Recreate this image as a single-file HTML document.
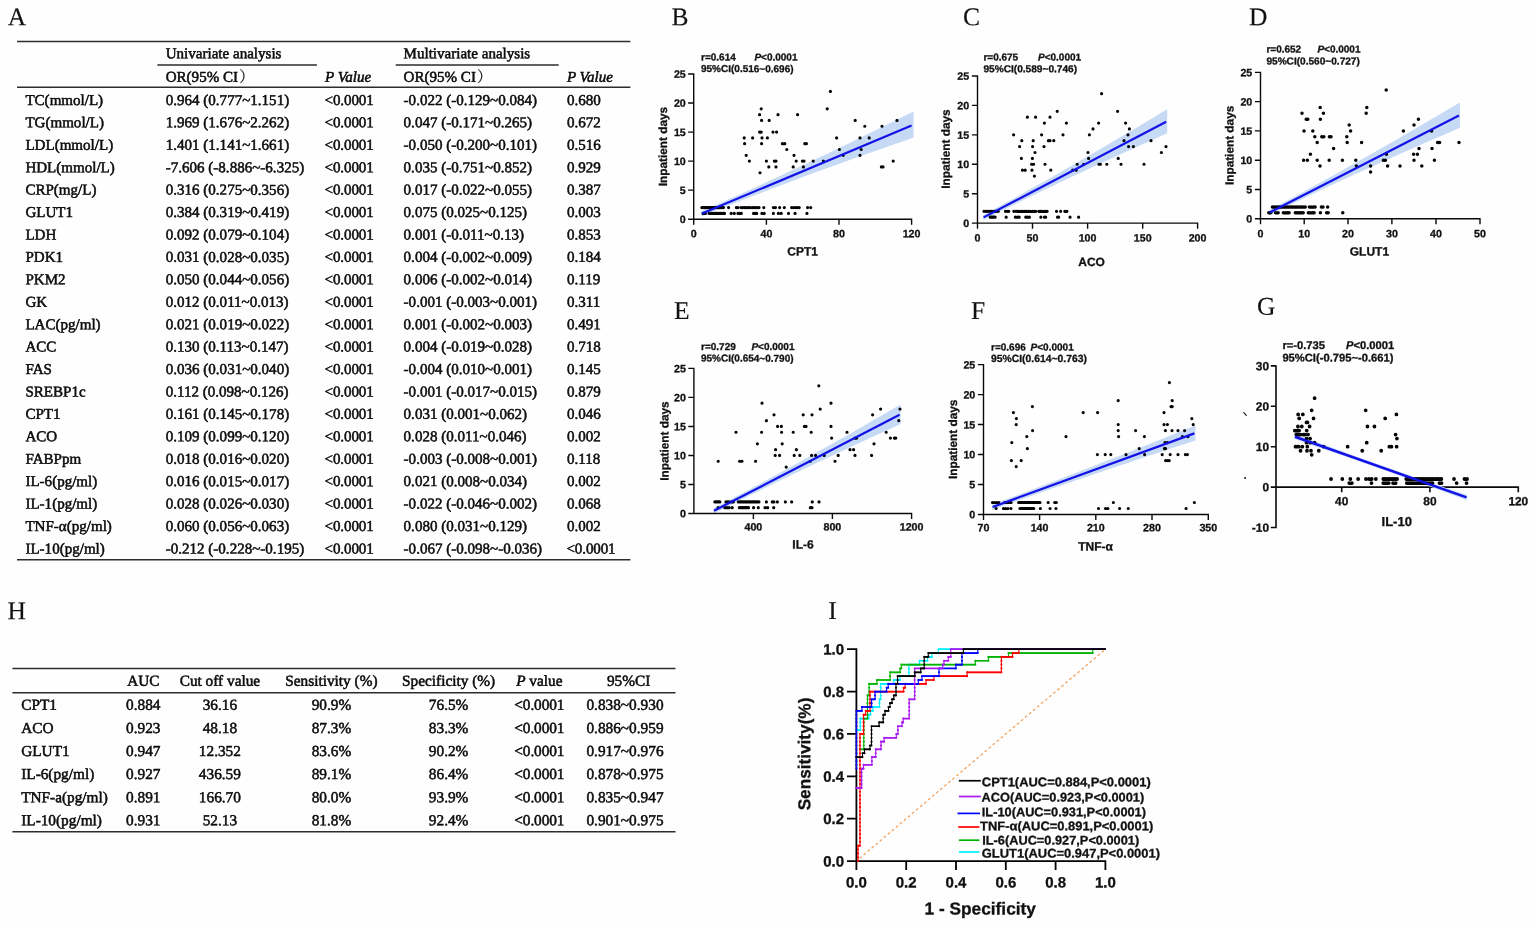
<!DOCTYPE html>
<html lang="en">
<head>
<meta charset="utf-8">
<title>Figure: regression analysis, correlation plots and ROC curves</title>
<style>
html,body{margin:0;padding:0;background:#fff;}
body{width:1535px;height:926px;overflow:hidden;}
#fig{position:relative;width:1535px;height:926px;overflow:hidden;background:#fefefe;filter:blur(0.4px);color:#111;
 font-family:"Liberation Serif","Noto Serif CJK SC",serif;font-size:15.05px;-webkit-text-stroke:0.5px #000;}
.pl{position:absolute;left:0;top:0;font-size:25.5px;line-height:30px;height:30px;white-space:pre;margin:0;font-weight:normal;transform-origin:0 0;-webkit-text-stroke:0.15px #111;}
.tbl{position:absolute;left:0;top:0;width:700px;}
.r{position:absolute;left:0;top:0;width:700px;height:0;line-height:20px;white-space:pre;}
.c,.cc{position:absolute;left:0;top:0;white-space:pre;transform-origin:0 0;}
.hl{position:absolute;height:1.3px;background:#2c2c2c;}
i{font-style:italic;}
.fw{font-family:"Noto Serif CJK SC","Noto Sans CJK SC",serif;font-size:15px;font-weight:400;margin-left:1.2px;-webkit-text-stroke:0.2px #222;line-height:0;}
.p{letter-spacing:-0.12px;}
svg{position:absolute;left:0;top:0;}
svg text{font-family:"Liberation Sans",sans-serif;font-weight:bold;fill:#111;stroke:#111;stroke-width:0.3px;-webkit-text-stroke:0;}
#tH{font-size:15.3px;}
</style>
</head>
<body>
<div id="fig">
<h2 class="pl" style="transform:translate(7.7px,2.19px) rotate(.03deg)">A</h2>
<h2 class="pl" style="transform:translate(671.5px,2.19px) rotate(.03deg)">B</h2>
<h2 class="pl" style="transform:translate(963.0px,2.19px) rotate(.03deg)">C</h2>
<h2 class="pl" style="transform:translate(1249.0px,2.19px) rotate(.03deg)">D</h2>
<h2 class="pl" style="transform:translate(674.0px,295.99px) rotate(.03deg)">E</h2>
<h2 class="pl" style="transform:translate(971.0px,295.99px) rotate(.03deg)">F</h2>
<h2 class="pl" style="transform:translate(1257.0px,291.79px) rotate(.03deg)">G</h2>
<h2 class="pl" style="transform:translate(7.6px,596.29px) rotate(.03deg)">H</h2>
<h2 class="pl" style="transform:translate(828.2px,595.99px) rotate(.03deg)">I</h2>
<section class="tbl" aria-label="Panel A regression table">
<div class="r"><span class="c" style="transform:translate(165.7px,43.24px) rotate(.03deg)">Univariate analysis</span><span class="c" style="transform:translate(403.6px,43.24px) rotate(.03deg)">Multivariate analysis</span></div>
<div class="r"><span class="c" style="transform:translate(165.7px,66.64px) rotate(.03deg)">OR(95% CI<span class="fw">）</span></span><span class="c" style="transform:translate(325.0px,66.64px) rotate(.03deg)"><i>P Value</i></span><span class="c" style="transform:translate(403.6px,66.64px) rotate(.03deg)">OR(95% CI<span class="fw">）</span></span><span class="c" style="transform:translate(566.9px,66.64px) rotate(.03deg)"><i>P Value</i></span></div>
<div class="r"><span class="c" style="transform:translate(25.4px,89.89px) rotate(.03deg)">TC(mmol/L)</span><span class="c" style="transform:translate(165.7px,89.89px) rotate(.03deg)">0.964 (0.777~1.151)</span><span class="c" style="transform:translate(324.6px,89.89px) rotate(.03deg)"><span class="p">&lt;0.0001</span></span><span class="c" style="transform:translate(403.6px,89.89px) rotate(.03deg)">-0.022 (-0.129~0.084)</span><span class="c" style="transform:translate(566.9px,89.89px) rotate(.03deg)">0.680</span></div>
<div class="r"><span class="c" style="transform:translate(25.4px,112.31px) rotate(.03deg)">TG(mmol/L)</span><span class="c" style="transform:translate(165.7px,112.31px) rotate(.03deg)">1.969 (1.676~2.262)</span><span class="c" style="transform:translate(324.6px,112.31px) rotate(.03deg)"><span class="p">&lt;0.0001</span></span><span class="c" style="transform:translate(403.6px,112.31px) rotate(.03deg)">0.047 (-0.171~0.265)</span><span class="c" style="transform:translate(566.9px,112.31px) rotate(.03deg)">0.672</span></div>
<div class="r"><span class="c" style="transform:translate(25.4px,134.74px) rotate(.03deg)">LDL(mmol/L)</span><span class="c" style="transform:translate(165.7px,134.74px) rotate(.03deg)">1.401 (1.141~1.661)</span><span class="c" style="transform:translate(324.6px,134.74px) rotate(.03deg)"><span class="p">&lt;0.0001</span></span><span class="c" style="transform:translate(403.6px,134.74px) rotate(.03deg)">-0.050 (-0.200~0.101)</span><span class="c" style="transform:translate(566.9px,134.74px) rotate(.03deg)">0.516</span></div>
<div class="r"><span class="c" style="transform:translate(25.4px,157.16px) rotate(.03deg)">HDL(mmol/L)</span><span class="c" style="transform:translate(165.7px,157.16px) rotate(.03deg)">-7.606 (-8.886~-6.325)</span><span class="c" style="transform:translate(324.6px,157.16px) rotate(.03deg)"><span class="p">&lt;0.0001</span></span><span class="c" style="transform:translate(403.6px,157.16px) rotate(.03deg)">0.035 (-0.751~0.852)</span><span class="c" style="transform:translate(566.9px,157.16px) rotate(.03deg)">0.929</span></div>
<div class="r"><span class="c" style="transform:translate(25.4px,179.59px) rotate(.03deg)">CRP(mg/L)</span><span class="c" style="transform:translate(165.7px,179.59px) rotate(.03deg)">0.316 (0.275~0.356)</span><span class="c" style="transform:translate(324.6px,179.59px) rotate(.03deg)"><span class="p">&lt;0.0001</span></span><span class="c" style="transform:translate(403.6px,179.59px) rotate(.03deg)">0.017 (-0.022~0.055)</span><span class="c" style="transform:translate(566.9px,179.59px) rotate(.03deg)">0.387</span></div>
<div class="r"><span class="c" style="transform:translate(25.4px,202.01px) rotate(.03deg)">GLUT1</span><span class="c" style="transform:translate(165.7px,202.01px) rotate(.03deg)">0.384 (0.319~0.419)</span><span class="c" style="transform:translate(324.6px,202.01px) rotate(.03deg)"><span class="p">&lt;0.0001</span></span><span class="c" style="transform:translate(403.6px,202.01px) rotate(.03deg)">0.075 (0.025~0.125)</span><span class="c" style="transform:translate(566.9px,202.01px) rotate(.03deg)">0.003</span></div>
<div class="r"><span class="c" style="transform:translate(25.4px,224.44px) rotate(.03deg)">LDH</span><span class="c" style="transform:translate(165.7px,224.44px) rotate(.03deg)">0.092 (0.079~0.104)</span><span class="c" style="transform:translate(324.6px,224.44px) rotate(.03deg)"><span class="p">&lt;0.0001</span></span><span class="c" style="transform:translate(403.6px,224.44px) rotate(.03deg)">0.001 (-0.011~0.13)</span><span class="c" style="transform:translate(566.9px,224.44px) rotate(.03deg)">0.853</span></div>
<div class="r"><span class="c" style="transform:translate(25.4px,246.86px) rotate(.03deg)">PDK1</span><span class="c" style="transform:translate(165.7px,246.86px) rotate(.03deg)">0.031 (0.028~0.035)</span><span class="c" style="transform:translate(324.6px,246.86px) rotate(.03deg)"><span class="p">&lt;0.0001</span></span><span class="c" style="transform:translate(403.6px,246.86px) rotate(.03deg)">0.004 (-0.002~0.009)</span><span class="c" style="transform:translate(566.9px,246.86px) rotate(.03deg)">0.184</span></div>
<div class="r"><span class="c" style="transform:translate(25.4px,269.29px) rotate(.03deg)">PKM2</span><span class="c" style="transform:translate(165.7px,269.29px) rotate(.03deg)">0.050 (0.044~0.056)</span><span class="c" style="transform:translate(324.6px,269.29px) rotate(.03deg)"><span class="p">&lt;0.0001</span></span><span class="c" style="transform:translate(403.6px,269.29px) rotate(.03deg)">0.006 (-0.002~0.014)</span><span class="c" style="transform:translate(566.9px,269.29px) rotate(.03deg)">0.119</span></div>
<div class="r"><span class="c" style="transform:translate(25.4px,291.71px) rotate(.03deg)">GK</span><span class="c" style="transform:translate(165.7px,291.71px) rotate(.03deg)">0.012 (0.011~0.013)</span><span class="c" style="transform:translate(324.6px,291.71px) rotate(.03deg)"><span class="p">&lt;0.0001</span></span><span class="c" style="transform:translate(403.6px,291.71px) rotate(.03deg)">-0.001 (-0.003~0.001)</span><span class="c" style="transform:translate(566.9px,291.71px) rotate(.03deg)">0.311</span></div>
<div class="r"><span class="c" style="transform:translate(25.4px,314.14px) rotate(.03deg)">LAC(pg/ml)</span><span class="c" style="transform:translate(165.7px,314.14px) rotate(.03deg)">0.021 (0.019~0.022)</span><span class="c" style="transform:translate(324.6px,314.14px) rotate(.03deg)"><span class="p">&lt;0.0001</span></span><span class="c" style="transform:translate(403.6px,314.14px) rotate(.03deg)">0.001 (-0.002~0.003)</span><span class="c" style="transform:translate(566.9px,314.14px) rotate(.03deg)">0.491</span></div>
<div class="r"><span class="c" style="transform:translate(25.4px,336.56px) rotate(.03deg)">ACC</span><span class="c" style="transform:translate(165.7px,336.56px) rotate(.03deg)">0.130 (0.113~0.147)</span><span class="c" style="transform:translate(324.6px,336.56px) rotate(.03deg)"><span class="p">&lt;0.0001</span></span><span class="c" style="transform:translate(403.6px,336.56px) rotate(.03deg)">0.004 (-0.019~0.028)</span><span class="c" style="transform:translate(566.9px,336.56px) rotate(.03deg)">0.718</span></div>
<div class="r"><span class="c" style="transform:translate(25.4px,358.99px) rotate(.03deg)">FAS</span><span class="c" style="transform:translate(165.7px,358.99px) rotate(.03deg)">0.036 (0.031~0.040)</span><span class="c" style="transform:translate(324.6px,358.99px) rotate(.03deg)"><span class="p">&lt;0.0001</span></span><span class="c" style="transform:translate(403.6px,358.99px) rotate(.03deg)">-0.004 (0.010~0.001)</span><span class="c" style="transform:translate(566.9px,358.99px) rotate(.03deg)">0.145</span></div>
<div class="r"><span class="c" style="transform:translate(25.4px,381.41px) rotate(.03deg)">SREBP1c</span><span class="c" style="transform:translate(165.7px,381.41px) rotate(.03deg)">0.112 (0.098~0.126)</span><span class="c" style="transform:translate(324.6px,381.41px) rotate(.03deg)"><span class="p">&lt;0.0001</span></span><span class="c" style="transform:translate(403.6px,381.41px) rotate(.03deg)">-0.001 (-0.017~0.015)</span><span class="c" style="transform:translate(566.9px,381.41px) rotate(.03deg)">0.879</span></div>
<div class="r"><span class="c" style="transform:translate(25.4px,403.84px) rotate(.03deg)">CPT1</span><span class="c" style="transform:translate(165.7px,403.84px) rotate(.03deg)">0.161 (0.145~0.178)</span><span class="c" style="transform:translate(324.6px,403.84px) rotate(.03deg)"><span class="p">&lt;0.0001</span></span><span class="c" style="transform:translate(403.6px,403.84px) rotate(.03deg)">0.031 (0.001~0.062)</span><span class="c" style="transform:translate(566.9px,403.84px) rotate(.03deg)">0.046</span></div>
<div class="r"><span class="c" style="transform:translate(25.4px,426.26px) rotate(.03deg)">ACO</span><span class="c" style="transform:translate(165.7px,426.26px) rotate(.03deg)">0.109 (0.099~0.120)</span><span class="c" style="transform:translate(324.6px,426.26px) rotate(.03deg)"><span class="p">&lt;0.0001</span></span><span class="c" style="transform:translate(403.6px,426.26px) rotate(.03deg)">0.028 (0.011~0.046)</span><span class="c" style="transform:translate(566.9px,426.26px) rotate(.03deg)">0.002</span></div>
<div class="r"><span class="c" style="transform:translate(25.4px,448.69px) rotate(.03deg)">FABPpm</span><span class="c" style="transform:translate(165.7px,448.69px) rotate(.03deg)">0.018 (0.016~0.020)</span><span class="c" style="transform:translate(324.6px,448.69px) rotate(.03deg)"><span class="p">&lt;0.0001</span></span><span class="c" style="transform:translate(403.6px,448.69px) rotate(.03deg)">-0.003 (-0.008~0.001)</span><span class="c" style="transform:translate(566.9px,448.69px) rotate(.03deg)">0.118</span></div>
<div class="r"><span class="c" style="transform:translate(25.4px,471.11px) rotate(.03deg)">IL-6(pg/ml)</span><span class="c" style="transform:translate(165.7px,471.11px) rotate(.03deg)">0.016 (0.015~0.017)</span><span class="c" style="transform:translate(324.6px,471.11px) rotate(.03deg)"><span class="p">&lt;0.0001</span></span><span class="c" style="transform:translate(403.6px,471.11px) rotate(.03deg)">0.021 (0.008~0.034)</span><span class="c" style="transform:translate(566.9px,471.11px) rotate(.03deg)">0.002</span></div>
<div class="r"><span class="c" style="transform:translate(25.4px,493.54px) rotate(.03deg)">IL-1(pg/ml)</span><span class="c" style="transform:translate(165.7px,493.54px) rotate(.03deg)">0.028 (0.026~0.030)</span><span class="c" style="transform:translate(324.6px,493.54px) rotate(.03deg)"><span class="p">&lt;0.0001</span></span><span class="c" style="transform:translate(403.6px,493.54px) rotate(.03deg)">-0.022 (-0.046~0.002)</span><span class="c" style="transform:translate(566.9px,493.54px) rotate(.03deg)">0.068</span></div>
<div class="r"><span class="c" style="transform:translate(25.4px,515.96px) rotate(.03deg)">TNF-α(pg/ml)</span><span class="c" style="transform:translate(165.7px,515.96px) rotate(.03deg)">0.060 (0.056~0.063)</span><span class="c" style="transform:translate(324.6px,515.96px) rotate(.03deg)"><span class="p">&lt;0.0001</span></span><span class="c" style="transform:translate(403.6px,515.96px) rotate(.03deg)">0.080 (0.031~0.129)</span><span class="c" style="transform:translate(566.9px,515.96px) rotate(.03deg)">0.002</span></div>
<div class="r"><span class="c" style="transform:translate(25.4px,538.39px) rotate(.03deg)">IL-10(pg/ml)</span><span class="c" style="transform:translate(165.7px,538.39px) rotate(.03deg)">-0.212 (-0.228~-0.195)</span><span class="c" style="transform:translate(324.6px,538.39px) rotate(.03deg)"><span class="p">&lt;0.0001</span></span><span class="c" style="transform:translate(403.6px,538.39px) rotate(.03deg)">-0.067 (-0.098~-0.036)</span><span class="c" style="transform:translate(566.5px,538.39px) rotate(.03deg)"><span class="p">&lt;0.0001</span></span></div>
</section>
<section class="tbl" id="tH" aria-label="Panel H ROC table">
<div class="r"><span class="cc" style="transform:translate(143.3px,670.74px) translateX(-50%) rotate(.03deg)">AUC</span><span class="cc" style="transform:translate(219.9px,670.74px) translateX(-50%) rotate(.03deg)">Cut off value</span><span class="cc" style="transform:translate(331.4px,670.74px) translateX(-50%) rotate(.03deg)">Sensitivity (%)</span><span class="cc" style="transform:translate(448.6px,670.74px) translateX(-50%) rotate(.03deg)">Specificity (%)</span><span class="cc" style="transform:translate(539.3px,670.74px) translateX(-50%) rotate(.03deg)"><i>P</i> value</span><span class="cc" style="transform:translate(628.6px,670.74px) translateX(-50%) rotate(.03deg)">95%CI</span></div>
<div class="r"><span class="c" style="transform:translate(21.2px,694.84px) rotate(.03deg)">CPT1</span><span class="cc" style="transform:translate(143.3px,694.84px) translateX(-50%) rotate(.03deg)">0.884</span><span class="cc" style="transform:translate(219.9px,694.84px) translateX(-50%) rotate(.03deg)">36.16</span><span class="cc" style="transform:translate(331.4px,694.84px) translateX(-50%) rotate(.03deg)">90.9%</span><span class="cc" style="transform:translate(448.6px,694.84px) translateX(-50%) rotate(.03deg)">76.5%</span><span class="cc" style="transform:translate(539.3px,694.84px) translateX(-50%) rotate(.03deg)"><span class="p">&lt;0.0001</span></span><span class="cc" style="transform:translate(625.0px,694.84px) translateX(-50%) rotate(.03deg)">0.838~0.930</span></div>
<div class="r"><span class="c" style="transform:translate(21.2px,717.92px) rotate(.03deg)">ACO</span><span class="cc" style="transform:translate(143.3px,717.92px) translateX(-50%) rotate(.03deg)">0.923</span><span class="cc" style="transform:translate(219.9px,717.92px) translateX(-50%) rotate(.03deg)">48.18</span><span class="cc" style="transform:translate(331.4px,717.92px) translateX(-50%) rotate(.03deg)">87.3%</span><span class="cc" style="transform:translate(448.6px,717.92px) translateX(-50%) rotate(.03deg)">83.3%</span><span class="cc" style="transform:translate(539.3px,717.92px) translateX(-50%) rotate(.03deg)"><span class="p">&lt;0.0001</span></span><span class="cc" style="transform:translate(625.0px,717.92px) translateX(-50%) rotate(.03deg)">0.886~0.959</span></div>
<div class="r"><span class="c" style="transform:translate(21.2px,741.00px) rotate(.03deg)">GLUT1</span><span class="cc" style="transform:translate(143.3px,741.00px) translateX(-50%) rotate(.03deg)">0.947</span><span class="cc" style="transform:translate(219.9px,741.00px) translateX(-50%) rotate(.03deg)">12.352</span><span class="cc" style="transform:translate(331.4px,741.00px) translateX(-50%) rotate(.03deg)">83.6%</span><span class="cc" style="transform:translate(448.6px,741.00px) translateX(-50%) rotate(.03deg)">90.2%</span><span class="cc" style="transform:translate(539.3px,741.00px) translateX(-50%) rotate(.03deg)"><span class="p">&lt;0.0001</span></span><span class="cc" style="transform:translate(625.0px,741.00px) translateX(-50%) rotate(.03deg)">0.917~0.976</span></div>
<div class="r"><span class="c" style="transform:translate(21.2px,764.08px) rotate(.03deg)">IL-6(pg/ml)</span><span class="cc" style="transform:translate(143.3px,764.08px) translateX(-50%) rotate(.03deg)">0.927</span><span class="cc" style="transform:translate(219.9px,764.08px) translateX(-50%) rotate(.03deg)">436.59</span><span class="cc" style="transform:translate(331.4px,764.08px) translateX(-50%) rotate(.03deg)">89.1%</span><span class="cc" style="transform:translate(448.6px,764.08px) translateX(-50%) rotate(.03deg)">86.4%</span><span class="cc" style="transform:translate(539.3px,764.08px) translateX(-50%) rotate(.03deg)"><span class="p">&lt;0.0001</span></span><span class="cc" style="transform:translate(625.0px,764.08px) translateX(-50%) rotate(.03deg)">0.878~0.975</span></div>
<div class="r"><span class="c" style="transform:translate(21.2px,787.16px) rotate(.03deg)">TNF-a(pg/ml)</span><span class="cc" style="transform:translate(143.3px,787.16px) translateX(-50%) rotate(.03deg)">0.891</span><span class="cc" style="transform:translate(219.9px,787.16px) translateX(-50%) rotate(.03deg)">166.70</span><span class="cc" style="transform:translate(331.4px,787.16px) translateX(-50%) rotate(.03deg)">80.0%</span><span class="cc" style="transform:translate(448.6px,787.16px) translateX(-50%) rotate(.03deg)">93.9%</span><span class="cc" style="transform:translate(539.3px,787.16px) translateX(-50%) rotate(.03deg)"><span class="p">&lt;0.0001</span></span><span class="cc" style="transform:translate(625.0px,787.16px) translateX(-50%) rotate(.03deg)">0.835~0.947</span></div>
<div class="r"><span class="c" style="transform:translate(21.2px,810.24px) rotate(.03deg)">IL-10(pg/ml)</span><span class="cc" style="transform:translate(143.3px,810.24px) translateX(-50%) rotate(.03deg)">0.931</span><span class="cc" style="transform:translate(219.9px,810.24px) translateX(-50%) rotate(.03deg)">52.13</span><span class="cc" style="transform:translate(331.4px,810.24px) translateX(-50%) rotate(.03deg)">81.8%</span><span class="cc" style="transform:translate(448.6px,810.24px) translateX(-50%) rotate(.03deg)">92.4%</span><span class="cc" style="transform:translate(539.3px,810.24px) translateX(-50%) rotate(.03deg)"><span class="p">&lt;0.0001</span></span><span class="cc" style="transform:translate(625.0px,810.24px) translateX(-50%) rotate(.03deg)">0.901~0.975</span></div>
</section>
<svg width="1535" height="926" viewBox="0 0 1535 926" role="img" aria-label="Correlation scatter plots and ROC curves">
<path id="rules" d="M17.0 41.50H630.4M157.4 64.90H316.9M395.7 64.90H558.7M17.0 87.20H630.4M17.0 559.80H630.4M12.4 668.60H675.5M12.4 692.70H675.5M12.4 831.80H675.5" stroke="#2c2c2c" stroke-width="1.5" fill="none"/>
<g id="plotB">
<polygon fill="#c6daf6" points="701.5,211.11 710.34,207.33 719.17,203.48 728.01,199.59 736.85,195.65 745.69,191.68 754.52,187.67 763.36,183.64 772.2,179.57 781.04,175.48 789.88,171.36 798.71,167.22 807.55,163.05 816.39,158.86 825.23,154.64 834.06,150.41 842.9,146.15 851.74,141.88 860.58,137.58 869.41,133.26 878.25,128.93 887.09,124.57 895.93,120.2 904.76,115.81 913.6,111.56 913.6,137.56 904.76,140.74 895.93,143.79 887.09,146.86 878.25,149.94 869.41,153.04 860.58,156.16 851.74,159.3 842.9,162.46 834.06,165.65 825.23,168.85 816.39,172.07 807.55,175.32 798.71,178.59 789.88,181.89 781.04,185.2 772.2,188.55 763.36,191.92 754.52,195.32 745.69,198.75 736.85,202.22 728.01,205.72 719.17,209.26 710.34,212.85 701.5,216.51"/>
<path d="M693.7 73.35V219.85M693.05 219.2H912.25M688.1 219.2H693.7M688.1 190.16H693.7M688.1 161.12H693.7M688.1 132.08H693.7M688.1 103.04H693.7M688.1 74H693.7M693.7 219.2V224.8M766.4 219.2V224.8M839 219.2V224.8M911.6 219.2V224.8" stroke="#0a0a0a" stroke-width="1.4" fill="none"/>
<path d="M828.8 91.42a1.6 1.6 0 1 0 3.2 0a1.6 1.6 0 1 0 -3.2 0zM759.6 108.85a1.6 1.6 0 1 0 3.2 0a1.6 1.6 0 1 0 -3.2 0zM825.6 108.85a1.6 1.6 0 1 0 3.2 0a1.6 1.6 0 1 0 -3.2 0zM758 114.66a1.6 1.6 0 1 0 3.2 0a1.6 1.6 0 1 0 -3.2 0zM776.4 114.66a1.6 1.6 0 1 0 3.2 0a1.6 1.6 0 1 0 -3.2 0zM796 114.66a1.6 1.6 0 1 0 3.2 0a1.6 1.6 0 1 0 -3.2 0zM760 120.46a1.6 1.6 0 1 0 3.2 0a1.6 1.6 0 1 0 -3.2 0zM767.6 120.46a1.6 1.6 0 1 0 3.2 0a1.6 1.6 0 1 0 -3.2 0zM853.6 120.46a1.6 1.6 0 1 0 3.2 0a1.6 1.6 0 1 0 -3.2 0zM895.4 120.46a1.6 1.6 0 1 0 3.2 0a1.6 1.6 0 1 0 -3.2 0zM863.2 126.27a1.6 1.6 0 1 0 3.2 0a1.6 1.6 0 1 0 -3.2 0zM880.4 126.27a1.6 1.6 0 1 0 3.2 0a1.6 1.6 0 1 0 -3.2 0zM758 132.08a1.6 1.6 0 1 0 3.2 0a1.6 1.6 0 1 0 -3.2 0zM759.6 132.08a1.6 1.6 0 1 0 3.2 0a1.6 1.6 0 1 0 -3.2 0zM771.4 132.08a1.6 1.6 0 1 0 3.2 0a1.6 1.6 0 1 0 -3.2 0zM775 132.08a1.6 1.6 0 1 0 3.2 0a1.6 1.6 0 1 0 -3.2 0zM742.6 137.89a1.6 1.6 0 1 0 3.2 0a1.6 1.6 0 1 0 -3.2 0zM751 137.89a1.6 1.6 0 1 0 3.2 0a1.6 1.6 0 1 0 -3.2 0zM760.4 137.89a1.6 1.6 0 1 0 3.2 0a1.6 1.6 0 1 0 -3.2 0zM765.8 137.89a1.6 1.6 0 1 0 3.2 0a1.6 1.6 0 1 0 -3.2 0zM835 137.89a1.6 1.6 0 1 0 3.2 0a1.6 1.6 0 1 0 -3.2 0zM858.4 137.89a1.6 1.6 0 1 0 3.2 0a1.6 1.6 0 1 0 -3.2 0zM867.6 137.89a1.6 1.6 0 1 0 3.2 0a1.6 1.6 0 1 0 -3.2 0zM743 143.7a1.6 1.6 0 1 0 3.2 0a1.6 1.6 0 1 0 -3.2 0zM760 143.7a1.6 1.6 0 1 0 3.2 0a1.6 1.6 0 1 0 -3.2 0zM780.8 143.7a1.6 1.6 0 1 0 3.2 0a1.6 1.6 0 1 0 -3.2 0zM783.2 143.7a1.6 1.6 0 1 0 3.2 0a1.6 1.6 0 1 0 -3.2 0zM803.2 143.7a1.6 1.6 0 1 0 3.2 0a1.6 1.6 0 1 0 -3.2 0zM804.8 143.7a1.6 1.6 0 1 0 3.2 0a1.6 1.6 0 1 0 -3.2 0zM785.2 149.5a1.6 1.6 0 1 0 3.2 0a1.6 1.6 0 1 0 -3.2 0zM837.8 149.5a1.6 1.6 0 1 0 3.2 0a1.6 1.6 0 1 0 -3.2 0zM859.6 149.5a1.6 1.6 0 1 0 3.2 0a1.6 1.6 0 1 0 -3.2 0zM744.6 155.31a1.6 1.6 0 1 0 3.2 0a1.6 1.6 0 1 0 -3.2 0zM792.4 155.31a1.6 1.6 0 1 0 3.2 0a1.6 1.6 0 1 0 -3.2 0zM841.6 155.31a1.6 1.6 0 1 0 3.2 0a1.6 1.6 0 1 0 -3.2 0zM858.4 155.31a1.6 1.6 0 1 0 3.2 0a1.6 1.6 0 1 0 -3.2 0zM747.8 161.12a1.6 1.6 0 1 0 3.2 0a1.6 1.6 0 1 0 -3.2 0zM764.8 161.12a1.6 1.6 0 1 0 3.2 0a1.6 1.6 0 1 0 -3.2 0zM772.8 161.12a1.6 1.6 0 1 0 3.2 0a1.6 1.6 0 1 0 -3.2 0zM774.4 161.12a1.6 1.6 0 1 0 3.2 0a1.6 1.6 0 1 0 -3.2 0zM794.6 161.12a1.6 1.6 0 1 0 3.2 0a1.6 1.6 0 1 0 -3.2 0zM800.8 161.12a1.6 1.6 0 1 0 3.2 0a1.6 1.6 0 1 0 -3.2 0zM802.4 161.12a1.6 1.6 0 1 0 3.2 0a1.6 1.6 0 1 0 -3.2 0zM811.6 161.12a1.6 1.6 0 1 0 3.2 0a1.6 1.6 0 1 0 -3.2 0zM821.8 161.12a1.6 1.6 0 1 0 3.2 0a1.6 1.6 0 1 0 -3.2 0zM891.6 161.12a1.6 1.6 0 1 0 3.2 0a1.6 1.6 0 1 0 -3.2 0zM767.2 166.93a1.6 1.6 0 1 0 3.2 0a1.6 1.6 0 1 0 -3.2 0zM774.4 166.93a1.6 1.6 0 1 0 3.2 0a1.6 1.6 0 1 0 -3.2 0zM791.6 166.93a1.6 1.6 0 1 0 3.2 0a1.6 1.6 0 1 0 -3.2 0zM801.8 166.93a1.6 1.6 0 1 0 3.2 0a1.6 1.6 0 1 0 -3.2 0zM879.8 166.93a1.6 1.6 0 1 0 3.2 0a1.6 1.6 0 1 0 -3.2 0zM881.4 166.93a1.6 1.6 0 1 0 3.2 0a1.6 1.6 0 1 0 -3.2 0zM758.4 172.74a1.6 1.6 0 1 0 3.2 0a1.6 1.6 0 1 0 -3.2 0zM700.26 207.58a1.6 1.6 0 1 0 3.2 0a1.6 1.6 0 1 0 -3.2 0zM701.53 207.58a1.6 1.6 0 1 0 3.2 0a1.6 1.6 0 1 0 -3.2 0zM702.81 207.58a1.6 1.6 0 1 0 3.2 0a1.6 1.6 0 1 0 -3.2 0zM704.08 207.58a1.6 1.6 0 1 0 3.2 0a1.6 1.6 0 1 0 -3.2 0zM705.35 207.58a1.6 1.6 0 1 0 3.2 0a1.6 1.6 0 1 0 -3.2 0zM706.62 207.58a1.6 1.6 0 1 0 3.2 0a1.6 1.6 0 1 0 -3.2 0zM707.89 207.58a1.6 1.6 0 1 0 3.2 0a1.6 1.6 0 1 0 -3.2 0zM709.16 207.58a1.6 1.6 0 1 0 3.2 0a1.6 1.6 0 1 0 -3.2 0zM710.43 207.58a1.6 1.6 0 1 0 3.2 0a1.6 1.6 0 1 0 -3.2 0zM711.71 207.58a1.6 1.6 0 1 0 3.2 0a1.6 1.6 0 1 0 -3.2 0zM712.98 207.58a1.6 1.6 0 1 0 3.2 0a1.6 1.6 0 1 0 -3.2 0zM714.25 207.58a1.6 1.6 0 1 0 3.2 0a1.6 1.6 0 1 0 -3.2 0zM715.52 207.58a1.6 1.6 0 1 0 3.2 0a1.6 1.6 0 1 0 -3.2 0zM716.79 207.58a1.6 1.6 0 1 0 3.2 0a1.6 1.6 0 1 0 -3.2 0zM718.06 207.58a1.6 1.6 0 1 0 3.2 0a1.6 1.6 0 1 0 -3.2 0zM719.33 207.58a1.6 1.6 0 1 0 3.2 0a1.6 1.6 0 1 0 -3.2 0zM720.61 207.58a1.6 1.6 0 1 0 3.2 0a1.6 1.6 0 1 0 -3.2 0zM721.88 207.58a1.6 1.6 0 1 0 3.2 0a1.6 1.6 0 1 0 -3.2 0zM726.97 207.58a1.6 1.6 0 1 0 3.2 0a1.6 1.6 0 1 0 -3.2 0zM734.78 207.58a1.6 1.6 0 1 0 3.2 0a1.6 1.6 0 1 0 -3.2 0zM736.35 207.58a1.6 1.6 0 1 0 3.2 0a1.6 1.6 0 1 0 -3.2 0zM739.47 207.58a1.6 1.6 0 1 0 3.2 0a1.6 1.6 0 1 0 -3.2 0zM741.04 207.58a1.6 1.6 0 1 0 3.2 0a1.6 1.6 0 1 0 -3.2 0zM742.6 207.58a1.6 1.6 0 1 0 3.2 0a1.6 1.6 0 1 0 -3.2 0zM744.16 207.58a1.6 1.6 0 1 0 3.2 0a1.6 1.6 0 1 0 -3.2 0zM745.73 207.58a1.6 1.6 0 1 0 3.2 0a1.6 1.6 0 1 0 -3.2 0zM747.29 207.58a1.6 1.6 0 1 0 3.2 0a1.6 1.6 0 1 0 -3.2 0zM748.85 207.58a1.6 1.6 0 1 0 3.2 0a1.6 1.6 0 1 0 -3.2 0zM750.94 207.58a1.6 1.6 0 1 0 3.2 0a1.6 1.6 0 1 0 -3.2 0zM752.5 207.58a1.6 1.6 0 1 0 3.2 0a1.6 1.6 0 1 0 -3.2 0zM754.07 207.58a1.6 1.6 0 1 0 3.2 0a1.6 1.6 0 1 0 -3.2 0zM755.63 207.58a1.6 1.6 0 1 0 3.2 0a1.6 1.6 0 1 0 -3.2 0zM757.4 207.58a1.6 1.6 0 1 0 3.2 0a1.6 1.6 0 1 0 -3.2 0zM762.2 207.58a1.6 1.6 0 1 0 3.2 0a1.6 1.6 0 1 0 -3.2 0zM771.79 207.58a1.6 1.6 0 1 0 3.2 0a1.6 1.6 0 1 0 -3.2 0zM773.87 207.58a1.6 1.6 0 1 0 3.2 0a1.6 1.6 0 1 0 -3.2 0zM778.04 207.58a1.6 1.6 0 1 0 3.2 0a1.6 1.6 0 1 0 -3.2 0zM782.73 207.58a1.6 1.6 0 1 0 3.2 0a1.6 1.6 0 1 0 -3.2 0zM790.03 207.58a1.6 1.6 0 1 0 3.2 0a1.6 1.6 0 1 0 -3.2 0zM792.11 207.58a1.6 1.6 0 1 0 3.2 0a1.6 1.6 0 1 0 -3.2 0zM794.2 207.58a1.6 1.6 0 1 0 3.2 0a1.6 1.6 0 1 0 -3.2 0zM795.76 207.58a1.6 1.6 0 1 0 3.2 0a1.6 1.6 0 1 0 -3.2 0zM797.63 207.58a1.6 1.6 0 1 0 3.2 0a1.6 1.6 0 1 0 -3.2 0zM805.97 207.58a1.6 1.6 0 1 0 3.2 0a1.6 1.6 0 1 0 -3.2 0zM809.1 207.58a1.6 1.6 0 1 0 3.2 0a1.6 1.6 0 1 0 -3.2 0zM701.43 213.39a1.6 1.6 0 1 0 3.2 0a1.6 1.6 0 1 0 -3.2 0zM703.83 213.39a1.6 1.6 0 1 0 3.2 0a1.6 1.6 0 1 0 -3.2 0zM707.56 213.39a1.6 1.6 0 1 0 3.2 0a1.6 1.6 0 1 0 -3.2 0zM708.84 213.39a1.6 1.6 0 1 0 3.2 0a1.6 1.6 0 1 0 -3.2 0zM710.12 213.39a1.6 1.6 0 1 0 3.2 0a1.6 1.6 0 1 0 -3.2 0zM711.4 213.39a1.6 1.6 0 1 0 3.2 0a1.6 1.6 0 1 0 -3.2 0zM712.68 213.39a1.6 1.6 0 1 0 3.2 0a1.6 1.6 0 1 0 -3.2 0zM713.96 213.39a1.6 1.6 0 1 0 3.2 0a1.6 1.6 0 1 0 -3.2 0zM715.24 213.39a1.6 1.6 0 1 0 3.2 0a1.6 1.6 0 1 0 -3.2 0zM716.52 213.39a1.6 1.6 0 1 0 3.2 0a1.6 1.6 0 1 0 -3.2 0zM717.8 213.39a1.6 1.6 0 1 0 3.2 0a1.6 1.6 0 1 0 -3.2 0zM719.08 213.39a1.6 1.6 0 1 0 3.2 0a1.6 1.6 0 1 0 -3.2 0zM720.36 213.39a1.6 1.6 0 1 0 3.2 0a1.6 1.6 0 1 0 -3.2 0zM721.64 213.39a1.6 1.6 0 1 0 3.2 0a1.6 1.6 0 1 0 -3.2 0zM722.92 213.39a1.6 1.6 0 1 0 3.2 0a1.6 1.6 0 1 0 -3.2 0zM729.57 213.39a1.6 1.6 0 1 0 3.2 0a1.6 1.6 0 1 0 -3.2 0zM732.7 213.39a1.6 1.6 0 1 0 3.2 0a1.6 1.6 0 1 0 -3.2 0zM736.35 213.39a1.6 1.6 0 1 0 3.2 0a1.6 1.6 0 1 0 -3.2 0zM738.22 213.39a1.6 1.6 0 1 0 3.2 0a1.6 1.6 0 1 0 -3.2 0zM739.68 213.39a1.6 1.6 0 1 0 3.2 0a1.6 1.6 0 1 0 -3.2 0zM751.98 213.39a1.6 1.6 0 1 0 3.2 0a1.6 1.6 0 1 0 -3.2 0zM753.54 213.39a1.6 1.6 0 1 0 3.2 0a1.6 1.6 0 1 0 -3.2 0zM755.11 213.39a1.6 1.6 0 1 0 3.2 0a1.6 1.6 0 1 0 -3.2 0zM760.32 213.39a1.6 1.6 0 1 0 3.2 0a1.6 1.6 0 1 0 -3.2 0zM762.61 213.39a1.6 1.6 0 1 0 3.2 0a1.6 1.6 0 1 0 -3.2 0zM771.79 213.39a1.6 1.6 0 1 0 3.2 0a1.6 1.6 0 1 0 -3.2 0zM776.79 213.39a1.6 1.6 0 1 0 3.2 0a1.6 1.6 0 1 0 -3.2 0zM779.6 213.39a1.6 1.6 0 1 0 3.2 0a1.6 1.6 0 1 0 -3.2 0zM786.9 213.39a1.6 1.6 0 1 0 3.2 0a1.6 1.6 0 1 0 -3.2 0zM793.47 213.39a1.6 1.6 0 1 0 3.2 0a1.6 1.6 0 1 0 -3.2 0zM805.35 213.39a1.6 1.6 0 1 0 3.2 0a1.6 1.6 0 1 0 -3.2 0z" fill="#050505"/>
<line x1="702" y1="213.6" x2="911.6" y2="125.4" stroke="#1212e6" stroke-width="2.2"/>
<g font-size="10.7">
<text transform="translate(685.8 223.03) rotate(0.03)" text-anchor="end">0</text><text transform="translate(685.8 193.99) rotate(0.03)" text-anchor="end">5</text><text transform="translate(685.8 164.95) rotate(0.03)" text-anchor="end">10</text><text transform="translate(685.8 135.91) rotate(0.03)" text-anchor="end">15</text><text transform="translate(685.8 106.87) rotate(0.03)" text-anchor="end">20</text><text transform="translate(685.8 77.83) rotate(0.03)" text-anchor="end">25</text>
<text transform="translate(693.7 237.2) rotate(0.03)" text-anchor="middle">0</text><text transform="translate(766.4 237.2) rotate(0.03)" text-anchor="middle">40</text><text transform="translate(839 237.2) rotate(0.03)" text-anchor="middle">80</text><text transform="translate(911.6 237.2) rotate(0.03)" text-anchor="middle">120</text>
</g>
<g font-size="10.0">
<text transform="translate(701 60.6) rotate(0.03)">r=0.614</text><text transform="translate(754.4 60.6) rotate(0.03)"><tspan font-style="italic">P</tspan>&lt;0.0001</text><text transform="translate(701 72.1) rotate(0.03)">95%CI(0.516~0.696)</text>
</g>
<text font-size="11.8" text-anchor="middle" transform="translate(667.02 146.5) rotate(-89.97)">Inpatient days</text>
<text font-size="12.0" text-anchor="middle" transform="translate(802.6 255.6) rotate(0.03)">CPT1</text>
</g>
<g id="plotC">
<polygon fill="#c6daf6" points="983.1,214.96 990.77,210.89 998.44,206.76 1006.11,202.59 1013.78,198.38 1021.45,194.13 1029.12,189.86 1036.8,185.56 1044.47,181.23 1052.14,176.88 1059.81,172.5 1067.48,168.11 1075.15,163.69 1082.82,159.25 1090.49,154.79 1098.16,150.31 1105.83,145.81 1113.5,141.3 1121.17,136.76 1128.85,132.21 1136.52,127.64 1144.19,123.05 1151.86,118.45 1159.53,113.83 1167.2,109.28 1167.2,133.28 1159.53,136.75 1151.86,140.17 1144.19,143.6 1136.52,147.04 1128.85,150.51 1121.17,153.98 1113.5,157.48 1105.83,161 1098.16,164.53 1090.49,168.09 1082.82,171.66 1075.15,175.25 1067.48,178.86 1059.81,182.5 1052.14,186.16 1044.47,189.84 1036.8,193.54 1029.12,197.27 1021.45,201.03 1013.78,204.82 1006.11,208.64 998.44,212.5 990.77,216.4 983.1,220.36"/>
<path d="M977.5 75.35V223.75M976.85 223.1H1198.25M971.9 223.1H977.5M971.9 193.68H977.5M971.9 164.26H977.5M971.9 134.84H977.5M971.9 105.42H977.5M971.9 76H977.5M977.5 223.1V228.7M1032.5 223.1V228.7M1087.6 223.1V228.7M1142.7 223.1V228.7M1197.6 223.1V228.7" stroke="#0a0a0a" stroke-width="1.4" fill="none"/>
<path d="M1100 93.65a1.6 1.6 0 1 0 3.2 0a1.6 1.6 0 1 0 -3.2 0zM1055.6 111.3a1.6 1.6 0 1 0 3.2 0a1.6 1.6 0 1 0 -3.2 0zM1116 111.3a1.6 1.6 0 1 0 3.2 0a1.6 1.6 0 1 0 -3.2 0zM1025.8 117.19a1.6 1.6 0 1 0 3.2 0a1.6 1.6 0 1 0 -3.2 0zM1034 117.19a1.6 1.6 0 1 0 3.2 0a1.6 1.6 0 1 0 -3.2 0zM1048.4 117.19a1.6 1.6 0 1 0 3.2 0a1.6 1.6 0 1 0 -3.2 0zM1042.8 123.07a1.6 1.6 0 1 0 3.2 0a1.6 1.6 0 1 0 -3.2 0zM1064.8 123.07a1.6 1.6 0 1 0 3.2 0a1.6 1.6 0 1 0 -3.2 0zM1097 123.07a1.6 1.6 0 1 0 3.2 0a1.6 1.6 0 1 0 -3.2 0zM1124 123.07a1.6 1.6 0 1 0 3.2 0a1.6 1.6 0 1 0 -3.2 0zM1091.4 128.96a1.6 1.6 0 1 0 3.2 0a1.6 1.6 0 1 0 -3.2 0zM1127.8 128.96a1.6 1.6 0 1 0 3.2 0a1.6 1.6 0 1 0 -3.2 0zM1012 134.84a1.6 1.6 0 1 0 3.2 0a1.6 1.6 0 1 0 -3.2 0zM1040 134.84a1.6 1.6 0 1 0 3.2 0a1.6 1.6 0 1 0 -3.2 0zM1061.4 134.84a1.6 1.6 0 1 0 3.2 0a1.6 1.6 0 1 0 -3.2 0zM1087.8 134.84a1.6 1.6 0 1 0 3.2 0a1.6 1.6 0 1 0 -3.2 0zM1126.4 134.84a1.6 1.6 0 1 0 3.2 0a1.6 1.6 0 1 0 -3.2 0zM1020.2 140.72a1.6 1.6 0 1 0 3.2 0a1.6 1.6 0 1 0 -3.2 0zM1031.6 140.72a1.6 1.6 0 1 0 3.2 0a1.6 1.6 0 1 0 -3.2 0zM1046.8 140.72a1.6 1.6 0 1 0 3.2 0a1.6 1.6 0 1 0 -3.2 0zM1048.4 140.72a1.6 1.6 0 1 0 3.2 0a1.6 1.6 0 1 0 -3.2 0zM1052.2 140.72a1.6 1.6 0 1 0 3.2 0a1.6 1.6 0 1 0 -3.2 0zM1122.4 140.72a1.6 1.6 0 1 0 3.2 0a1.6 1.6 0 1 0 -3.2 0zM1149.4 140.72a1.6 1.6 0 1 0 3.2 0a1.6 1.6 0 1 0 -3.2 0zM1018 146.61a1.6 1.6 0 1 0 3.2 0a1.6 1.6 0 1 0 -3.2 0zM1031 146.61a1.6 1.6 0 1 0 3.2 0a1.6 1.6 0 1 0 -3.2 0zM1042.4 146.61a1.6 1.6 0 1 0 3.2 0a1.6 1.6 0 1 0 -3.2 0zM1127 146.61a1.6 1.6 0 1 0 3.2 0a1.6 1.6 0 1 0 -3.2 0zM1131.8 146.61a1.6 1.6 0 1 0 3.2 0a1.6 1.6 0 1 0 -3.2 0zM1164.4 146.61a1.6 1.6 0 1 0 3.2 0a1.6 1.6 0 1 0 -3.2 0zM1033.4 152.49a1.6 1.6 0 1 0 3.2 0a1.6 1.6 0 1 0 -3.2 0zM1086.4 152.49a1.6 1.6 0 1 0 3.2 0a1.6 1.6 0 1 0 -3.2 0zM1159.8 152.49a1.6 1.6 0 1 0 3.2 0a1.6 1.6 0 1 0 -3.2 0zM1019.8 158.38a1.6 1.6 0 1 0 3.2 0a1.6 1.6 0 1 0 -3.2 0zM1030.8 158.38a1.6 1.6 0 1 0 3.2 0a1.6 1.6 0 1 0 -3.2 0zM1087 158.38a1.6 1.6 0 1 0 3.2 0a1.6 1.6 0 1 0 -3.2 0zM1116.6 158.38a1.6 1.6 0 1 0 3.2 0a1.6 1.6 0 1 0 -3.2 0zM1030 164.26a1.6 1.6 0 1 0 3.2 0a1.6 1.6 0 1 0 -3.2 0zM1032 164.26a1.6 1.6 0 1 0 3.2 0a1.6 1.6 0 1 0 -3.2 0zM1043.4 164.26a1.6 1.6 0 1 0 3.2 0a1.6 1.6 0 1 0 -3.2 0zM1075.6 164.26a1.6 1.6 0 1 0 3.2 0a1.6 1.6 0 1 0 -3.2 0zM1082 164.26a1.6 1.6 0 1 0 3.2 0a1.6 1.6 0 1 0 -3.2 0zM1097.4 164.26a1.6 1.6 0 1 0 3.2 0a1.6 1.6 0 1 0 -3.2 0zM1098.8 164.26a1.6 1.6 0 1 0 3.2 0a1.6 1.6 0 1 0 -3.2 0zM1105.2 164.26a1.6 1.6 0 1 0 3.2 0a1.6 1.6 0 1 0 -3.2 0zM1119.4 164.26a1.6 1.6 0 1 0 3.2 0a1.6 1.6 0 1 0 -3.2 0zM1142.4 164.26a1.6 1.6 0 1 0 3.2 0a1.6 1.6 0 1 0 -3.2 0zM1020.8 170.14a1.6 1.6 0 1 0 3.2 0a1.6 1.6 0 1 0 -3.2 0zM1023.6 170.14a1.6 1.6 0 1 0 3.2 0a1.6 1.6 0 1 0 -3.2 0zM1030.4 170.14a1.6 1.6 0 1 0 3.2 0a1.6 1.6 0 1 0 -3.2 0zM1049.2 170.14a1.6 1.6 0 1 0 3.2 0a1.6 1.6 0 1 0 -3.2 0zM1071.2 170.14a1.6 1.6 0 1 0 3.2 0a1.6 1.6 0 1 0 -3.2 0zM1074.6 170.14a1.6 1.6 0 1 0 3.2 0a1.6 1.6 0 1 0 -3.2 0zM1032.8 176.03a1.6 1.6 0 1 0 3.2 0a1.6 1.6 0 1 0 -3.2 0zM982.35 211.33a1.6 1.6 0 1 0 3.2 0a1.6 1.6 0 1 0 -3.2 0zM983.65 211.33a1.6 1.6 0 1 0 3.2 0a1.6 1.6 0 1 0 -3.2 0zM984.95 211.33a1.6 1.6 0 1 0 3.2 0a1.6 1.6 0 1 0 -3.2 0zM986.25 211.33a1.6 1.6 0 1 0 3.2 0a1.6 1.6 0 1 0 -3.2 0zM987.55 211.33a1.6 1.6 0 1 0 3.2 0a1.6 1.6 0 1 0 -3.2 0zM988.86 211.33a1.6 1.6 0 1 0 3.2 0a1.6 1.6 0 1 0 -3.2 0zM990.16 211.33a1.6 1.6 0 1 0 3.2 0a1.6 1.6 0 1 0 -3.2 0zM991.46 211.33a1.6 1.6 0 1 0 3.2 0a1.6 1.6 0 1 0 -3.2 0zM992.76 211.33a1.6 1.6 0 1 0 3.2 0a1.6 1.6 0 1 0 -3.2 0zM994.06 211.33a1.6 1.6 0 1 0 3.2 0a1.6 1.6 0 1 0 -3.2 0zM995.36 211.33a1.6 1.6 0 1 0 3.2 0a1.6 1.6 0 1 0 -3.2 0zM996.67 211.33a1.6 1.6 0 1 0 3.2 0a1.6 1.6 0 1 0 -3.2 0zM1003.84 211.33a1.6 1.6 0 1 0 3.2 0a1.6 1.6 0 1 0 -3.2 0zM1005.71 211.33a1.6 1.6 0 1 0 3.2 0a1.6 1.6 0 1 0 -3.2 0zM1007.17 211.33a1.6 1.6 0 1 0 3.2 0a1.6 1.6 0 1 0 -3.2 0zM1012.18 211.33a1.6 1.6 0 1 0 3.2 0a1.6 1.6 0 1 0 -3.2 0zM1014.26 211.33a1.6 1.6 0 1 0 3.2 0a1.6 1.6 0 1 0 -3.2 0zM1015.83 211.33a1.6 1.6 0 1 0 3.2 0a1.6 1.6 0 1 0 -3.2 0zM1017.39 211.33a1.6 1.6 0 1 0 3.2 0a1.6 1.6 0 1 0 -3.2 0zM1019.47 211.33a1.6 1.6 0 1 0 3.2 0a1.6 1.6 0 1 0 -3.2 0zM1021.04 211.33a1.6 1.6 0 1 0 3.2 0a1.6 1.6 0 1 0 -3.2 0zM1022.6 211.33a1.6 1.6 0 1 0 3.2 0a1.6 1.6 0 1 0 -3.2 0zM1024.16 211.33a1.6 1.6 0 1 0 3.2 0a1.6 1.6 0 1 0 -3.2 0zM1025.73 211.33a1.6 1.6 0 1 0 3.2 0a1.6 1.6 0 1 0 -3.2 0zM1027.29 211.33a1.6 1.6 0 1 0 3.2 0a1.6 1.6 0 1 0 -3.2 0zM1028.85 211.33a1.6 1.6 0 1 0 3.2 0a1.6 1.6 0 1 0 -3.2 0zM1030.94 211.33a1.6 1.6 0 1 0 3.2 0a1.6 1.6 0 1 0 -3.2 0zM1032.5 211.33a1.6 1.6 0 1 0 3.2 0a1.6 1.6 0 1 0 -3.2 0zM1034.07 211.33a1.6 1.6 0 1 0 3.2 0a1.6 1.6 0 1 0 -3.2 0zM1037.19 211.33a1.6 1.6 0 1 0 3.2 0a1.6 1.6 0 1 0 -3.2 0zM1038.76 211.33a1.6 1.6 0 1 0 3.2 0a1.6 1.6 0 1 0 -3.2 0zM1040.32 211.33a1.6 1.6 0 1 0 3.2 0a1.6 1.6 0 1 0 -3.2 0zM1042.4 211.33a1.6 1.6 0 1 0 3.2 0a1.6 1.6 0 1 0 -3.2 0zM1043.97 211.33a1.6 1.6 0 1 0 3.2 0a1.6 1.6 0 1 0 -3.2 0zM1045.53 211.33a1.6 1.6 0 1 0 3.2 0a1.6 1.6 0 1 0 -3.2 0zM1054.91 211.33a1.6 1.6 0 1 0 3.2 0a1.6 1.6 0 1 0 -3.2 0zM1059.08 211.33a1.6 1.6 0 1 0 3.2 0a1.6 1.6 0 1 0 -3.2 0zM1063.25 211.33a1.6 1.6 0 1 0 3.2 0a1.6 1.6 0 1 0 -3.2 0zM1065.34 211.33a1.6 1.6 0 1 0 3.2 0a1.6 1.6 0 1 0 -3.2 0zM988.6 217.22a1.6 1.6 0 1 0 3.2 0a1.6 1.6 0 1 0 -3.2 0zM989.84 217.22a1.6 1.6 0 1 0 3.2 0a1.6 1.6 0 1 0 -3.2 0zM991.07 217.22a1.6 1.6 0 1 0 3.2 0a1.6 1.6 0 1 0 -3.2 0zM992.3 217.22a1.6 1.6 0 1 0 3.2 0a1.6 1.6 0 1 0 -3.2 0zM993.54 217.22a1.6 1.6 0 1 0 3.2 0a1.6 1.6 0 1 0 -3.2 0zM1004.57 217.22a1.6 1.6 0 1 0 3.2 0a1.6 1.6 0 1 0 -3.2 0zM1013.74 217.22a1.6 1.6 0 1 0 3.2 0a1.6 1.6 0 1 0 -3.2 0zM1015.83 217.22a1.6 1.6 0 1 0 3.2 0a1.6 1.6 0 1 0 -3.2 0zM1017.6 217.22a1.6 1.6 0 1 0 3.2 0a1.6 1.6 0 1 0 -3.2 0zM1024.16 217.22a1.6 1.6 0 1 0 3.2 0a1.6 1.6 0 1 0 -3.2 0zM1025.73 217.22a1.6 1.6 0 1 0 3.2 0a1.6 1.6 0 1 0 -3.2 0zM1027.81 217.22a1.6 1.6 0 1 0 3.2 0a1.6 1.6 0 1 0 -3.2 0zM1039.28 217.22a1.6 1.6 0 1 0 3.2 0a1.6 1.6 0 1 0 -3.2 0zM1042.93 217.22a1.6 1.6 0 1 0 3.2 0a1.6 1.6 0 1 0 -3.2 0zM1043.97 217.22a1.6 1.6 0 1 0 3.2 0a1.6 1.6 0 1 0 -3.2 0zM1055.95 217.22a1.6 1.6 0 1 0 3.2 0a1.6 1.6 0 1 0 -3.2 0zM1057 217.22a1.6 1.6 0 1 0 3.2 0a1.6 1.6 0 1 0 -3.2 0zM1068.46 217.22a1.6 1.6 0 1 0 3.2 0a1.6 1.6 0 1 0 -3.2 0zM1077.01 217.22a1.6 1.6 0 1 0 3.2 0a1.6 1.6 0 1 0 -3.2 0z" fill="#050505"/>
<line x1="983.6" y1="217.4" x2="1166.2" y2="121.8" stroke="#1212e6" stroke-width="2.2"/>
<g font-size="10.7">
<text transform="translate(969.2 226.93) rotate(0.03)" text-anchor="end">0</text><text transform="translate(969.2 197.51) rotate(0.03)" text-anchor="end">5</text><text transform="translate(969.2 168.09) rotate(0.03)" text-anchor="end">10</text><text transform="translate(969.2 138.67) rotate(0.03)" text-anchor="end">15</text><text transform="translate(969.2 109.25) rotate(0.03)" text-anchor="end">20</text><text transform="translate(969.2 79.83) rotate(0.03)" text-anchor="end">25</text>
<text transform="translate(977.5 241.6) rotate(0.03)" text-anchor="middle">0</text><text transform="translate(1032.5 241.6) rotate(0.03)" text-anchor="middle">50</text><text transform="translate(1087.6 241.6) rotate(0.03)" text-anchor="middle">100</text><text transform="translate(1142.7 241.6) rotate(0.03)" text-anchor="middle">150</text><text transform="translate(1197.6 241.6) rotate(0.03)" text-anchor="middle">200</text>
</g>
<g font-size="10.0">
<text transform="translate(983.4 60.6) rotate(0.03)">r=0.675</text><text transform="translate(1038 60.6) rotate(0.03)"><tspan font-style="italic">P</tspan>&lt;0.0001</text><text font-size="10.15" transform="translate(983.4 72.2) rotate(0.03)">95%CI(0.589~0.746)</text>
</g>
<text font-size="11.8" text-anchor="middle" transform="translate(949.82 149) rotate(-89.97)">Inpatient days</text>
<text font-size="12.0" text-anchor="middle" transform="translate(1091.6 266) rotate(0.03)">ACO</text>
</g>
<g id="plotD">
<polygon fill="#c6daf6" points="1269.1,209.96 1277.05,205.83 1285.01,201.64 1292.96,197.41 1300.92,193.13 1308.87,188.82 1316.82,184.48 1324.78,180.11 1332.73,175.71 1340.69,171.28 1348.64,166.83 1356.6,162.36 1364.55,157.86 1372.5,153.34 1380.46,148.8 1388.41,144.23 1396.37,139.65 1404.32,135.05 1412.28,130.43 1420.23,125.78 1428.18,121.12 1436.14,116.44 1444.09,111.75 1452.05,107.04 1460,102.39 1460,127.79 1452.05,131.27 1444.09,134.69 1436.14,138.12 1428.18,141.58 1420.23,145.05 1412.28,148.54 1404.32,152.04 1396.37,155.57 1388.41,159.12 1380.46,162.69 1372.5,166.27 1364.55,169.88 1356.6,173.52 1348.64,177.17 1340.69,180.85 1332.73,184.56 1324.78,188.29 1316.82,192.05 1308.87,195.84 1300.92,199.66 1292.96,203.51 1285.01,207.41 1277.05,211.35 1269.1,215.36"/>
<path d="M1260.5 71.75V219.35M1259.85 218.7H1480.65M1254.9 218.7H1260.5M1254.9 189.44H1260.5M1254.9 160.18H1260.5M1254.9 130.92H1260.5M1254.9 101.66H1260.5M1254.9 72.4H1260.5M1260.5 218.7V224.3M1304.2 218.7V224.3M1348 218.7V224.3M1391.9 218.7V224.3M1436 218.7V224.3M1480 218.7V224.3" stroke="#0a0a0a" stroke-width="1.4" fill="none"/>
<path d="M1384.45 89.96a1.75 1.75 0 1 0 3.5 0a1.75 1.75 0 1 0 -3.5 0zM1318.45 107.51a1.75 1.75 0 1 0 3.5 0a1.75 1.75 0 1 0 -3.5 0zM1365.05 107.51a1.75 1.75 0 1 0 3.5 0a1.75 1.75 0 1 0 -3.5 0zM1300.25 113.36a1.75 1.75 0 1 0 3.5 0a1.75 1.75 0 1 0 -3.5 0zM1321.65 113.36a1.75 1.75 0 1 0 3.5 0a1.75 1.75 0 1 0 -3.5 0zM1364.45 113.36a1.75 1.75 0 1 0 3.5 0a1.75 1.75 0 1 0 -3.5 0zM1304.45 119.22a1.75 1.75 0 1 0 3.5 0a1.75 1.75 0 1 0 -3.5 0zM1306.05 119.22a1.75 1.75 0 1 0 3.5 0a1.75 1.75 0 1 0 -3.5 0zM1318.65 119.22a1.75 1.75 0 1 0 3.5 0a1.75 1.75 0 1 0 -3.5 0zM1416.65 119.22a1.75 1.75 0 1 0 3.5 0a1.75 1.75 0 1 0 -3.5 0zM1347.45 125.07a1.75 1.75 0 1 0 3.5 0a1.75 1.75 0 1 0 -3.5 0zM1412.25 125.07a1.75 1.75 0 1 0 3.5 0a1.75 1.75 0 1 0 -3.5 0zM1302.25 130.92a1.75 1.75 0 1 0 3.5 0a1.75 1.75 0 1 0 -3.5 0zM1311.05 130.92a1.75 1.75 0 1 0 3.5 0a1.75 1.75 0 1 0 -3.5 0zM1348.85 130.92a1.75 1.75 0 1 0 3.5 0a1.75 1.75 0 1 0 -3.5 0zM1401.65 130.92a1.75 1.75 0 1 0 3.5 0a1.75 1.75 0 1 0 -3.5 0zM1429.85 130.92a1.75 1.75 0 1 0 3.5 0a1.75 1.75 0 1 0 -3.5 0zM1313.05 136.77a1.75 1.75 0 1 0 3.5 0a1.75 1.75 0 1 0 -3.5 0zM1320.05 136.77a1.75 1.75 0 1 0 3.5 0a1.75 1.75 0 1 0 -3.5 0zM1322.05 136.77a1.75 1.75 0 1 0 3.5 0a1.75 1.75 0 1 0 -3.5 0zM1327.65 136.77a1.75 1.75 0 1 0 3.5 0a1.75 1.75 0 1 0 -3.5 0zM1329.25 136.77a1.75 1.75 0 1 0 3.5 0a1.75 1.75 0 1 0 -3.5 0zM1345.05 136.77a1.75 1.75 0 1 0 3.5 0a1.75 1.75 0 1 0 -3.5 0zM1315.45 142.62a1.75 1.75 0 1 0 3.5 0a1.75 1.75 0 1 0 -3.5 0zM1345.45 142.62a1.75 1.75 0 1 0 3.5 0a1.75 1.75 0 1 0 -3.5 0zM1359.85 142.62a1.75 1.75 0 1 0 3.5 0a1.75 1.75 0 1 0 -3.5 0zM1435.85 142.62a1.75 1.75 0 1 0 3.5 0a1.75 1.75 0 1 0 -3.5 0zM1437.85 142.62a1.75 1.75 0 1 0 3.5 0a1.75 1.75 0 1 0 -3.5 0zM1457.25 142.62a1.75 1.75 0 1 0 3.5 0a1.75 1.75 0 1 0 -3.5 0zM1331.85 148.48a1.75 1.75 0 1 0 3.5 0a1.75 1.75 0 1 0 -3.5 0zM1417.25 148.48a1.75 1.75 0 1 0 3.5 0a1.75 1.75 0 1 0 -3.5 0zM1430.25 148.48a1.75 1.75 0 1 0 3.5 0a1.75 1.75 0 1 0 -3.5 0zM1308.65 154.33a1.75 1.75 0 1 0 3.5 0a1.75 1.75 0 1 0 -3.5 0zM1384.65 154.33a1.75 1.75 0 1 0 3.5 0a1.75 1.75 0 1 0 -3.5 0zM1411.85 154.33a1.75 1.75 0 1 0 3.5 0a1.75 1.75 0 1 0 -3.5 0zM1415.65 154.33a1.75 1.75 0 1 0 3.5 0a1.75 1.75 0 1 0 -3.5 0zM1301.85 160.18a1.75 1.75 0 1 0 3.5 0a1.75 1.75 0 1 0 -3.5 0zM1305.65 160.18a1.75 1.75 0 1 0 3.5 0a1.75 1.75 0 1 0 -3.5 0zM1315.45 160.18a1.75 1.75 0 1 0 3.5 0a1.75 1.75 0 1 0 -3.5 0zM1327.45 160.18a1.75 1.75 0 1 0 3.5 0a1.75 1.75 0 1 0 -3.5 0zM1340.65 160.18a1.75 1.75 0 1 0 3.5 0a1.75 1.75 0 1 0 -3.5 0zM1354.05 160.18a1.75 1.75 0 1 0 3.5 0a1.75 1.75 0 1 0 -3.5 0zM1381.65 160.18a1.75 1.75 0 1 0 3.5 0a1.75 1.75 0 1 0 -3.5 0zM1383.65 160.18a1.75 1.75 0 1 0 3.5 0a1.75 1.75 0 1 0 -3.5 0zM1412.25 160.18a1.75 1.75 0 1 0 3.5 0a1.75 1.75 0 1 0 -3.5 0zM1432.65 160.18a1.75 1.75 0 1 0 3.5 0a1.75 1.75 0 1 0 -3.5 0zM1318.25 166.03a1.75 1.75 0 1 0 3.5 0a1.75 1.75 0 1 0 -3.5 0zM1354.65 166.03a1.75 1.75 0 1 0 3.5 0a1.75 1.75 0 1 0 -3.5 0zM1368.85 166.03a1.75 1.75 0 1 0 3.5 0a1.75 1.75 0 1 0 -3.5 0zM1385.85 166.03a1.75 1.75 0 1 0 3.5 0a1.75 1.75 0 1 0 -3.5 0zM1398.25 166.03a1.75 1.75 0 1 0 3.5 0a1.75 1.75 0 1 0 -3.5 0zM1420.05 166.03a1.75 1.75 0 1 0 3.5 0a1.75 1.75 0 1 0 -3.5 0zM1368.85 171.88a1.75 1.75 0 1 0 3.5 0a1.75 1.75 0 1 0 -3.5 0zM1270.67 207a1.75 1.75 0 1 0 3.5 0a1.75 1.75 0 1 0 -3.5 0zM1271.93 207a1.75 1.75 0 1 0 3.5 0a1.75 1.75 0 1 0 -3.5 0zM1273.2 207a1.75 1.75 0 1 0 3.5 0a1.75 1.75 0 1 0 -3.5 0zM1274.46 207a1.75 1.75 0 1 0 3.5 0a1.75 1.75 0 1 0 -3.5 0zM1275.72 207a1.75 1.75 0 1 0 3.5 0a1.75 1.75 0 1 0 -3.5 0zM1276.98 207a1.75 1.75 0 1 0 3.5 0a1.75 1.75 0 1 0 -3.5 0zM1278.24 207a1.75 1.75 0 1 0 3.5 0a1.75 1.75 0 1 0 -3.5 0zM1279.5 207a1.75 1.75 0 1 0 3.5 0a1.75 1.75 0 1 0 -3.5 0zM1280.77 207a1.75 1.75 0 1 0 3.5 0a1.75 1.75 0 1 0 -3.5 0zM1282.03 207a1.75 1.75 0 1 0 3.5 0a1.75 1.75 0 1 0 -3.5 0zM1283.29 207a1.75 1.75 0 1 0 3.5 0a1.75 1.75 0 1 0 -3.5 0zM1284.55 207a1.75 1.75 0 1 0 3.5 0a1.75 1.75 0 1 0 -3.5 0zM1285.81 207a1.75 1.75 0 1 0 3.5 0a1.75 1.75 0 1 0 -3.5 0zM1287.08 207a1.75 1.75 0 1 0 3.5 0a1.75 1.75 0 1 0 -3.5 0zM1288.34 207a1.75 1.75 0 1 0 3.5 0a1.75 1.75 0 1 0 -3.5 0zM1289.6 207a1.75 1.75 0 1 0 3.5 0a1.75 1.75 0 1 0 -3.5 0zM1290.86 207a1.75 1.75 0 1 0 3.5 0a1.75 1.75 0 1 0 -3.5 0zM1292.12 207a1.75 1.75 0 1 0 3.5 0a1.75 1.75 0 1 0 -3.5 0zM1293.39 207a1.75 1.75 0 1 0 3.5 0a1.75 1.75 0 1 0 -3.5 0zM1294.65 207a1.75 1.75 0 1 0 3.5 0a1.75 1.75 0 1 0 -3.5 0zM1295.91 207a1.75 1.75 0 1 0 3.5 0a1.75 1.75 0 1 0 -3.5 0zM1297.17 207a1.75 1.75 0 1 0 3.5 0a1.75 1.75 0 1 0 -3.5 0zM1298.43 207a1.75 1.75 0 1 0 3.5 0a1.75 1.75 0 1 0 -3.5 0zM1299.7 207a1.75 1.75 0 1 0 3.5 0a1.75 1.75 0 1 0 -3.5 0zM1300.96 207a1.75 1.75 0 1 0 3.5 0a1.75 1.75 0 1 0 -3.5 0zM1302.22 207a1.75 1.75 0 1 0 3.5 0a1.75 1.75 0 1 0 -3.5 0zM1303.48 207a1.75 1.75 0 1 0 3.5 0a1.75 1.75 0 1 0 -3.5 0zM1307.66 207a1.75 1.75 0 1 0 3.5 0a1.75 1.75 0 1 0 -3.5 0zM1309.75 207a1.75 1.75 0 1 0 3.5 0a1.75 1.75 0 1 0 -3.5 0zM1311.83 207a1.75 1.75 0 1 0 3.5 0a1.75 1.75 0 1 0 -3.5 0zM1313.39 207a1.75 1.75 0 1 0 3.5 0a1.75 1.75 0 1 0 -3.5 0zM1319.65 207a1.75 1.75 0 1 0 3.5 0a1.75 1.75 0 1 0 -3.5 0zM1321.21 207a1.75 1.75 0 1 0 3.5 0a1.75 1.75 0 1 0 -3.5 0zM1325.9 207a1.75 1.75 0 1 0 3.5 0a1.75 1.75 0 1 0 -3.5 0zM1267.01 212.85a1.75 1.75 0 1 0 3.5 0a1.75 1.75 0 1 0 -3.5 0zM1269.1 212.85a1.75 1.75 0 1 0 3.5 0a1.75 1.75 0 1 0 -3.5 0zM1273.79 212.85a1.75 1.75 0 1 0 3.5 0a1.75 1.75 0 1 0 -3.5 0zM1276.39 212.85a1.75 1.75 0 1 0 3.5 0a1.75 1.75 0 1 0 -3.5 0zM1281.6 212.85a1.75 1.75 0 1 0 3.5 0a1.75 1.75 0 1 0 -3.5 0zM1283.69 212.85a1.75 1.75 0 1 0 3.5 0a1.75 1.75 0 1 0 -3.5 0zM1285.77 212.85a1.75 1.75 0 1 0 3.5 0a1.75 1.75 0 1 0 -3.5 0zM1287.34 212.85a1.75 1.75 0 1 0 3.5 0a1.75 1.75 0 1 0 -3.5 0zM1293.6 212.85a1.75 1.75 0 1 0 3.5 0a1.75 1.75 0 1 0 -3.5 0zM1294.9 212.85a1.75 1.75 0 1 0 3.5 0a1.75 1.75 0 1 0 -3.5 0zM1296.2 212.85a1.75 1.75 0 1 0 3.5 0a1.75 1.75 0 1 0 -3.5 0zM1297.5 212.85a1.75 1.75 0 1 0 3.5 0a1.75 1.75 0 1 0 -3.5 0zM1298.8 212.85a1.75 1.75 0 1 0 3.5 0a1.75 1.75 0 1 0 -3.5 0zM1300.1 212.85a1.75 1.75 0 1 0 3.5 0a1.75 1.75 0 1 0 -3.5 0zM1301.4 212.85a1.75 1.75 0 1 0 3.5 0a1.75 1.75 0 1 0 -3.5 0zM1306.62 212.85a1.75 1.75 0 1 0 3.5 0a1.75 1.75 0 1 0 -3.5 0zM1308.7 212.85a1.75 1.75 0 1 0 3.5 0a1.75 1.75 0 1 0 -3.5 0zM1310.79 212.85a1.75 1.75 0 1 0 3.5 0a1.75 1.75 0 1 0 -3.5 0zM1312.35 212.85a1.75 1.75 0 1 0 3.5 0a1.75 1.75 0 1 0 -3.5 0zM1318.61 212.85a1.75 1.75 0 1 0 3.5 0a1.75 1.75 0 1 0 -3.5 0zM1324.86 212.85a1.75 1.75 0 1 0 3.5 0a1.75 1.75 0 1 0 -3.5 0zM1326.42 212.85a1.75 1.75 0 1 0 3.5 0a1.75 1.75 0 1 0 -3.5 0zM1341.02 212.85a1.75 1.75 0 1 0 3.5 0a1.75 1.75 0 1 0 -3.5 0z" fill="#050505"/>
<line x1="1269.6" y1="212.4" x2="1459" y2="115.6" stroke="#1212e6" stroke-width="2.2"/>
<g font-size="10.7">
<text transform="translate(1252.3 222.53) rotate(0.03)" text-anchor="end">0</text><text transform="translate(1252.3 193.27) rotate(0.03)" text-anchor="end">5</text><text transform="translate(1252.3 164.01) rotate(0.03)" text-anchor="end">10</text><text transform="translate(1252.3 134.75) rotate(0.03)" text-anchor="end">15</text><text transform="translate(1252.3 105.49) rotate(0.03)" text-anchor="end">20</text><text transform="translate(1252.3 76.23) rotate(0.03)" text-anchor="end">25</text>
<text transform="translate(1260.5 237.2) rotate(0.03)" text-anchor="middle">0</text><text transform="translate(1304.2 237.2) rotate(0.03)" text-anchor="middle">10</text><text transform="translate(1348 237.2) rotate(0.03)" text-anchor="middle">20</text><text transform="translate(1391.9 237.2) rotate(0.03)" text-anchor="middle">30</text><text transform="translate(1436 237.2) rotate(0.03)" text-anchor="middle">40</text><text transform="translate(1480 237.2) rotate(0.03)" text-anchor="middle">50</text>
</g>
<g font-size="10.0">
<text transform="translate(1266.4 52.6) rotate(0.03)">r=0.652</text><text transform="translate(1317.4 52.6) rotate(0.03)"><tspan font-style="italic">P</tspan>&lt;0.0001</text><text font-size="10.1" transform="translate(1266.4 64.4) rotate(0.03)">95%CI(0.560~0.727)</text>
</g>
<text font-size="11.8" text-anchor="middle" transform="translate(1233.42 145.4) rotate(-89.97)">Inpatient days</text>
<text font-size="12.0" text-anchor="middle" transform="translate(1369.4 255.6) rotate(0.03)">GLUT1</text>
</g>
<g id="plotE">
<polygon fill="#c6daf6" points="713.5,508.36 721.3,504.3 729.09,500.2 736.89,496.06 744.68,491.9 752.48,487.71 760.27,483.5 768.07,479.27 775.87,475.02 783.66,470.74 791.46,466.45 799.25,462.14 807.05,457.81 814.85,453.46 822.64,449.09 830.44,444.71 838.23,440.3 846.03,435.89 853.83,431.45 861.62,427 869.42,422.54 877.21,418.05 885.01,413.56 892.8,409.05 900.6,404.58 900.6,423.98 892.8,427.58 885.01,431.14 877.21,434.71 869.42,438.29 861.62,441.89 853.83,445.5 846.03,449.13 838.23,452.78 830.44,456.44 822.64,460.12 814.85,463.82 807.05,467.54 799.25,471.27 791.46,475.02 783.66,478.79 775.87,482.58 768.07,486.39 760.27,490.22 752.48,494.08 744.68,497.96 736.89,501.86 729.09,505.79 721.3,509.75 713.5,513.76"/>
<path d="M693.9 367.75V514.15M693.25 513.5H912.25M688.3 513.5H693.9M688.3 484.48H693.9M688.3 455.46H693.9M688.3 426.44H693.9M688.3 397.42H693.9M688.3 368.4H693.9M753.4 513.5V519.1M832.4 513.5V519.1M911.6 513.5V519.1" stroke="#0a0a0a" stroke-width="1.4" fill="none"/>
<path d="M817.2 385.81a1.6 1.6 0 1 0 3.2 0a1.6 1.6 0 1 0 -3.2 0zM760.4 403.22a1.6 1.6 0 1 0 3.2 0a1.6 1.6 0 1 0 -3.2 0zM829.4 403.22a1.6 1.6 0 1 0 3.2 0a1.6 1.6 0 1 0 -3.2 0zM818.6 409.03a1.6 1.6 0 1 0 3.2 0a1.6 1.6 0 1 0 -3.2 0zM879 409.03a1.6 1.6 0 1 0 3.2 0a1.6 1.6 0 1 0 -3.2 0zM898.4 409.03a1.6 1.6 0 1 0 3.2 0a1.6 1.6 0 1 0 -3.2 0zM772.4 414.83a1.6 1.6 0 1 0 3.2 0a1.6 1.6 0 1 0 -3.2 0zM801.6 414.83a1.6 1.6 0 1 0 3.2 0a1.6 1.6 0 1 0 -3.2 0zM810.4 414.83a1.6 1.6 0 1 0 3.2 0a1.6 1.6 0 1 0 -3.2 0zM871 414.83a1.6 1.6 0 1 0 3.2 0a1.6 1.6 0 1 0 -3.2 0zM764.8 420.64a1.6 1.6 0 1 0 3.2 0a1.6 1.6 0 1 0 -3.2 0zM897.2 420.64a1.6 1.6 0 1 0 3.2 0a1.6 1.6 0 1 0 -3.2 0zM776 426.44a1.6 1.6 0 1 0 3.2 0a1.6 1.6 0 1 0 -3.2 0zM779.8 426.44a1.6 1.6 0 1 0 3.2 0a1.6 1.6 0 1 0 -3.2 0zM802.8 426.44a1.6 1.6 0 1 0 3.2 0a1.6 1.6 0 1 0 -3.2 0zM804.4 426.44a1.6 1.6 0 1 0 3.2 0a1.6 1.6 0 1 0 -3.2 0zM829.4 426.44a1.6 1.6 0 1 0 3.2 0a1.6 1.6 0 1 0 -3.2 0zM734.4 432.24a1.6 1.6 0 1 0 3.2 0a1.6 1.6 0 1 0 -3.2 0zM760 432.24a1.6 1.6 0 1 0 3.2 0a1.6 1.6 0 1 0 -3.2 0zM780 432.24a1.6 1.6 0 1 0 3.2 0a1.6 1.6 0 1 0 -3.2 0zM791.6 432.24a1.6 1.6 0 1 0 3.2 0a1.6 1.6 0 1 0 -3.2 0zM809.6 432.24a1.6 1.6 0 1 0 3.2 0a1.6 1.6 0 1 0 -3.2 0zM845.4 432.24a1.6 1.6 0 1 0 3.2 0a1.6 1.6 0 1 0 -3.2 0zM884.6 432.24a1.6 1.6 0 1 0 3.2 0a1.6 1.6 0 1 0 -3.2 0zM830 438.05a1.6 1.6 0 1 0 3.2 0a1.6 1.6 0 1 0 -3.2 0zM853.4 438.05a1.6 1.6 0 1 0 3.2 0a1.6 1.6 0 1 0 -3.2 0zM855 438.05a1.6 1.6 0 1 0 3.2 0a1.6 1.6 0 1 0 -3.2 0zM888.8 438.05a1.6 1.6 0 1 0 3.2 0a1.6 1.6 0 1 0 -3.2 0zM892.8 438.05a1.6 1.6 0 1 0 3.2 0a1.6 1.6 0 1 0 -3.2 0zM894.2 438.05a1.6 1.6 0 1 0 3.2 0a1.6 1.6 0 1 0 -3.2 0zM755.8 443.85a1.6 1.6 0 1 0 3.2 0a1.6 1.6 0 1 0 -3.2 0zM780.6 443.85a1.6 1.6 0 1 0 3.2 0a1.6 1.6 0 1 0 -3.2 0zM872.4 443.85a1.6 1.6 0 1 0 3.2 0a1.6 1.6 0 1 0 -3.2 0zM774 449.66a1.6 1.6 0 1 0 3.2 0a1.6 1.6 0 1 0 -3.2 0zM794.8 449.66a1.6 1.6 0 1 0 3.2 0a1.6 1.6 0 1 0 -3.2 0zM848.4 449.66a1.6 1.6 0 1 0 3.2 0a1.6 1.6 0 1 0 -3.2 0zM852 449.66a1.6 1.6 0 1 0 3.2 0a1.6 1.6 0 1 0 -3.2 0zM773.6 455.46a1.6 1.6 0 1 0 3.2 0a1.6 1.6 0 1 0 -3.2 0zM778 455.46a1.6 1.6 0 1 0 3.2 0a1.6 1.6 0 1 0 -3.2 0zM792.6 455.46a1.6 1.6 0 1 0 3.2 0a1.6 1.6 0 1 0 -3.2 0zM798.2 455.46a1.6 1.6 0 1 0 3.2 0a1.6 1.6 0 1 0 -3.2 0zM810 455.46a1.6 1.6 0 1 0 3.2 0a1.6 1.6 0 1 0 -3.2 0zM814 455.46a1.6 1.6 0 1 0 3.2 0a1.6 1.6 0 1 0 -3.2 0zM822.6 455.46a1.6 1.6 0 1 0 3.2 0a1.6 1.6 0 1 0 -3.2 0zM836.6 455.46a1.6 1.6 0 1 0 3.2 0a1.6 1.6 0 1 0 -3.2 0zM853.4 455.46a1.6 1.6 0 1 0 3.2 0a1.6 1.6 0 1 0 -3.2 0zM870 455.46a1.6 1.6 0 1 0 3.2 0a1.6 1.6 0 1 0 -3.2 0zM716.6 461.26a1.6 1.6 0 1 0 3.2 0a1.6 1.6 0 1 0 -3.2 0zM738 461.26a1.6 1.6 0 1 0 3.2 0a1.6 1.6 0 1 0 -3.2 0zM740.4 461.26a1.6 1.6 0 1 0 3.2 0a1.6 1.6 0 1 0 -3.2 0zM754 461.26a1.6 1.6 0 1 0 3.2 0a1.6 1.6 0 1 0 -3.2 0zM808.6 461.26a1.6 1.6 0 1 0 3.2 0a1.6 1.6 0 1 0 -3.2 0zM833.4 461.26a1.6 1.6 0 1 0 3.2 0a1.6 1.6 0 1 0 -3.2 0zM784.6 467.07a1.6 1.6 0 1 0 3.2 0a1.6 1.6 0 1 0 -3.2 0zM713.29 501.89a1.6 1.6 0 1 0 3.2 0a1.6 1.6 0 1 0 -3.2 0zM714.53 501.89a1.6 1.6 0 1 0 3.2 0a1.6 1.6 0 1 0 -3.2 0zM715.76 501.89a1.6 1.6 0 1 0 3.2 0a1.6 1.6 0 1 0 -3.2 0zM717 501.89a1.6 1.6 0 1 0 3.2 0a1.6 1.6 0 1 0 -3.2 0zM718.23 501.89a1.6 1.6 0 1 0 3.2 0a1.6 1.6 0 1 0 -3.2 0zM724.36 501.89a1.6 1.6 0 1 0 3.2 0a1.6 1.6 0 1 0 -3.2 0zM725.92 501.89a1.6 1.6 0 1 0 3.2 0a1.6 1.6 0 1 0 -3.2 0zM727.49 501.89a1.6 1.6 0 1 0 3.2 0a1.6 1.6 0 1 0 -3.2 0zM730.09 501.89a1.6 1.6 0 1 0 3.2 0a1.6 1.6 0 1 0 -3.2 0zM731.66 501.89a1.6 1.6 0 1 0 3.2 0a1.6 1.6 0 1 0 -3.2 0zM736.74 501.89a1.6 1.6 0 1 0 3.2 0a1.6 1.6 0 1 0 -3.2 0zM738.03 501.89a1.6 1.6 0 1 0 3.2 0a1.6 1.6 0 1 0 -3.2 0zM739.32 501.89a1.6 1.6 0 1 0 3.2 0a1.6 1.6 0 1 0 -3.2 0zM740.6 501.89a1.6 1.6 0 1 0 3.2 0a1.6 1.6 0 1 0 -3.2 0zM741.89 501.89a1.6 1.6 0 1 0 3.2 0a1.6 1.6 0 1 0 -3.2 0zM743.17 501.89a1.6 1.6 0 1 0 3.2 0a1.6 1.6 0 1 0 -3.2 0zM744.46 501.89a1.6 1.6 0 1 0 3.2 0a1.6 1.6 0 1 0 -3.2 0zM745.74 501.89a1.6 1.6 0 1 0 3.2 0a1.6 1.6 0 1 0 -3.2 0zM747.03 501.89a1.6 1.6 0 1 0 3.2 0a1.6 1.6 0 1 0 -3.2 0zM748.32 501.89a1.6 1.6 0 1 0 3.2 0a1.6 1.6 0 1 0 -3.2 0zM749.6 501.89a1.6 1.6 0 1 0 3.2 0a1.6 1.6 0 1 0 -3.2 0zM750.89 501.89a1.6 1.6 0 1 0 3.2 0a1.6 1.6 0 1 0 -3.2 0zM752.17 501.89a1.6 1.6 0 1 0 3.2 0a1.6 1.6 0 1 0 -3.2 0zM753.46 501.89a1.6 1.6 0 1 0 3.2 0a1.6 1.6 0 1 0 -3.2 0zM754.74 501.89a1.6 1.6 0 1 0 3.2 0a1.6 1.6 0 1 0 -3.2 0zM756.03 501.89a1.6 1.6 0 1 0 3.2 0a1.6 1.6 0 1 0 -3.2 0zM757.32 501.89a1.6 1.6 0 1 0 3.2 0a1.6 1.6 0 1 0 -3.2 0zM764.8 501.89a1.6 1.6 0 1 0 3.2 0a1.6 1.6 0 1 0 -3.2 0zM770.74 501.89a1.6 1.6 0 1 0 3.2 0a1.6 1.6 0 1 0 -3.2 0zM772.31 501.89a1.6 1.6 0 1 0 3.2 0a1.6 1.6 0 1 0 -3.2 0zM775.75 501.89a1.6 1.6 0 1 0 3.2 0a1.6 1.6 0 1 0 -3.2 0zM783.77 501.89a1.6 1.6 0 1 0 3.2 0a1.6 1.6 0 1 0 -3.2 0zM790.03 501.89a1.6 1.6 0 1 0 3.2 0a1.6 1.6 0 1 0 -3.2 0zM810.66 501.89a1.6 1.6 0 1 0 3.2 0a1.6 1.6 0 1 0 -3.2 0zM817.44 501.89a1.6 1.6 0 1 0 3.2 0a1.6 1.6 0 1 0 -3.2 0zM716.54 507.7a1.6 1.6 0 1 0 3.2 0a1.6 1.6 0 1 0 -3.2 0zM723.32 507.7a1.6 1.6 0 1 0 3.2 0a1.6 1.6 0 1 0 -3.2 0zM725.4 507.7a1.6 1.6 0 1 0 3.2 0a1.6 1.6 0 1 0 -3.2 0zM727.49 507.7a1.6 1.6 0 1 0 3.2 0a1.6 1.6 0 1 0 -3.2 0zM730.61 507.7a1.6 1.6 0 1 0 3.2 0a1.6 1.6 0 1 0 -3.2 0zM737.79 507.7a1.6 1.6 0 1 0 3.2 0a1.6 1.6 0 1 0 -3.2 0zM739.09 507.7a1.6 1.6 0 1 0 3.2 0a1.6 1.6 0 1 0 -3.2 0zM740.39 507.7a1.6 1.6 0 1 0 3.2 0a1.6 1.6 0 1 0 -3.2 0zM741.69 507.7a1.6 1.6 0 1 0 3.2 0a1.6 1.6 0 1 0 -3.2 0zM742.99 507.7a1.6 1.6 0 1 0 3.2 0a1.6 1.6 0 1 0 -3.2 0zM744.29 507.7a1.6 1.6 0 1 0 3.2 0a1.6 1.6 0 1 0 -3.2 0zM745.59 507.7a1.6 1.6 0 1 0 3.2 0a1.6 1.6 0 1 0 -3.2 0zM746.89 507.7a1.6 1.6 0 1 0 3.2 0a1.6 1.6 0 1 0 -3.2 0zM751.98 507.7a1.6 1.6 0 1 0 3.2 0a1.6 1.6 0 1 0 -3.2 0zM756.67 507.7a1.6 1.6 0 1 0 3.2 0a1.6 1.6 0 1 0 -3.2 0zM763.45 507.7a1.6 1.6 0 1 0 3.2 0a1.6 1.6 0 1 0 -3.2 0zM766.05 507.7a1.6 1.6 0 1 0 3.2 0a1.6 1.6 0 1 0 -3.2 0zM772.1 507.7a1.6 1.6 0 1 0 3.2 0a1.6 1.6 0 1 0 -3.2 0zM808.79 507.7a1.6 1.6 0 1 0 3.2 0a1.6 1.6 0 1 0 -3.2 0zM810.35 507.7a1.6 1.6 0 1 0 3.2 0a1.6 1.6 0 1 0 -3.2 0z" fill="#050505"/>
<line x1="714" y1="510.8" x2="899.6" y2="414.8" stroke="#1212e6" stroke-width="2.2"/>
<g font-size="10.7">
<text transform="translate(686 517.33) rotate(0.03)" text-anchor="end">0</text><text transform="translate(686 488.31) rotate(0.03)" text-anchor="end">5</text><text transform="translate(686 459.29) rotate(0.03)" text-anchor="end">10</text><text transform="translate(686 430.27) rotate(0.03)" text-anchor="end">15</text><text transform="translate(686 401.25) rotate(0.03)" text-anchor="end">20</text><text transform="translate(686 372.23) rotate(0.03)" text-anchor="end">25</text>
<text transform="translate(753.4 530.4) rotate(0.03)" text-anchor="middle">400</text><text transform="translate(832.4 530.4) rotate(0.03)" text-anchor="middle">800</text><text transform="translate(911.6 530.4) rotate(0.03)" text-anchor="middle">1200</text>
</g>
<g font-size="10.0">
<text transform="translate(701 350) rotate(0.03)">r=0.729</text><text transform="translate(751.4 350) rotate(0.03)"><tspan font-style="italic">P</tspan>&lt;0.0001</text><text transform="translate(701 361.6) rotate(0.03)">95%CI(0.654~0.790)</text>
</g>
<text font-size="11.8" text-anchor="middle" transform="translate(668.42 441) rotate(-89.97)">Inpatient days</text>
<text font-size="12.0" text-anchor="middle" transform="translate(803 548.6) rotate(0.03)">IL-6</text>
</g>
<g id="plotF">
<polygon fill="#c6daf6" points="992.1,504.48 1000.57,501.37 1009.04,498.24 1017.51,495.08 1025.98,491.9 1034.45,488.7 1042.92,485.49 1051.4,482.27 1059.87,479.03 1068.34,475.77 1076.81,472.5 1085.28,469.22 1093.75,465.93 1102.22,462.62 1110.69,459.3 1119.16,455.97 1127.63,452.63 1136.1,449.27 1144.58,445.91 1153.05,442.53 1161.52,439.15 1169.99,435.75 1178.46,432.34 1186.93,428.92 1195.4,425.54 1195.4,440.54 1186.93,443.33 1178.46,446.09 1169.99,448.86 1161.52,451.64 1153.05,454.43 1144.58,457.24 1136.1,460.05 1127.63,462.88 1119.16,465.71 1110.69,468.56 1102.22,471.42 1093.75,474.29 1085.28,477.18 1076.81,480.07 1068.34,482.98 1059.87,485.91 1051.4,488.85 1042.92,491.8 1034.45,494.77 1025.98,497.75 1017.51,500.75 1009.04,503.77 1000.57,506.81 992.1,509.88"/>
<path d="M983.5 363.95V515.15M982.85 514.5H1208.95M977.9 514.5H983.5M977.9 484.52H983.5M977.9 454.54H983.5M977.9 424.56H983.5M977.9 394.58H983.5M977.9 364.6H983.5M983.5 514.5V520.1M1039.6 514.5V520.1M1095.8 514.5V520.1M1152 514.5V520.1M1208.3 514.5V520.1" stroke="#0a0a0a" stroke-width="1.4" fill="none"/>
<path d="M1167.8 382.59a1.6 1.6 0 1 0 3.2 0a1.6 1.6 0 1 0 -3.2 0zM1116.6 400.58a1.6 1.6 0 1 0 3.2 0a1.6 1.6 0 1 0 -3.2 0zM1170.6 400.58a1.6 1.6 0 1 0 3.2 0a1.6 1.6 0 1 0 -3.2 0zM1030.8 406.57a1.6 1.6 0 1 0 3.2 0a1.6 1.6 0 1 0 -3.2 0zM1169.4 406.57a1.6 1.6 0 1 0 3.2 0a1.6 1.6 0 1 0 -3.2 0zM1170.6 406.57a1.6 1.6 0 1 0 3.2 0a1.6 1.6 0 1 0 -3.2 0zM1011.8 412.57a1.6 1.6 0 1 0 3.2 0a1.6 1.6 0 1 0 -3.2 0zM1081.6 412.57a1.6 1.6 0 1 0 3.2 0a1.6 1.6 0 1 0 -3.2 0zM1096 412.57a1.6 1.6 0 1 0 3.2 0a1.6 1.6 0 1 0 -3.2 0zM1162.4 412.57a1.6 1.6 0 1 0 3.2 0a1.6 1.6 0 1 0 -3.2 0zM1014.8 418.56a1.6 1.6 0 1 0 3.2 0a1.6 1.6 0 1 0 -3.2 0zM1190.2 418.56a1.6 1.6 0 1 0 3.2 0a1.6 1.6 0 1 0 -3.2 0zM1014.6 424.56a1.6 1.6 0 1 0 3.2 0a1.6 1.6 0 1 0 -3.2 0zM1116.6 424.56a1.6 1.6 0 1 0 3.2 0a1.6 1.6 0 1 0 -3.2 0zM1162.4 424.56a1.6 1.6 0 1 0 3.2 0a1.6 1.6 0 1 0 -3.2 0zM1165.8 424.56a1.6 1.6 0 1 0 3.2 0a1.6 1.6 0 1 0 -3.2 0zM1191.6 424.56a1.6 1.6 0 1 0 3.2 0a1.6 1.6 0 1 0 -3.2 0zM1031 430.56a1.6 1.6 0 1 0 3.2 0a1.6 1.6 0 1 0 -3.2 0zM1116.6 430.56a1.6 1.6 0 1 0 3.2 0a1.6 1.6 0 1 0 -3.2 0zM1134 430.56a1.6 1.6 0 1 0 3.2 0a1.6 1.6 0 1 0 -3.2 0zM1163.8 430.56a1.6 1.6 0 1 0 3.2 0a1.6 1.6 0 1 0 -3.2 0zM1170.4 430.56a1.6 1.6 0 1 0 3.2 0a1.6 1.6 0 1 0 -3.2 0zM1176.4 430.56a1.6 1.6 0 1 0 3.2 0a1.6 1.6 0 1 0 -3.2 0zM1183 430.56a1.6 1.6 0 1 0 3.2 0a1.6 1.6 0 1 0 -3.2 0zM1025.2 436.55a1.6 1.6 0 1 0 3.2 0a1.6 1.6 0 1 0 -3.2 0zM1064.4 436.55a1.6 1.6 0 1 0 3.2 0a1.6 1.6 0 1 0 -3.2 0zM1117 436.55a1.6 1.6 0 1 0 3.2 0a1.6 1.6 0 1 0 -3.2 0zM1142.8 436.55a1.6 1.6 0 1 0 3.2 0a1.6 1.6 0 1 0 -3.2 0zM1180.8 436.55a1.6 1.6 0 1 0 3.2 0a1.6 1.6 0 1 0 -3.2 0zM1186.4 436.55a1.6 1.6 0 1 0 3.2 0a1.6 1.6 0 1 0 -3.2 0zM1010.2 442.55a1.6 1.6 0 1 0 3.2 0a1.6 1.6 0 1 0 -3.2 0zM1163.4 442.55a1.6 1.6 0 1 0 3.2 0a1.6 1.6 0 1 0 -3.2 0zM1165.8 442.55a1.6 1.6 0 1 0 3.2 0a1.6 1.6 0 1 0 -3.2 0zM1025.8 448.54a1.6 1.6 0 1 0 3.2 0a1.6 1.6 0 1 0 -3.2 0zM1137.6 448.54a1.6 1.6 0 1 0 3.2 0a1.6 1.6 0 1 0 -3.2 0zM1162.8 448.54a1.6 1.6 0 1 0 3.2 0a1.6 1.6 0 1 0 -3.2 0zM1164 448.54a1.6 1.6 0 1 0 3.2 0a1.6 1.6 0 1 0 -3.2 0zM1095.8 454.54a1.6 1.6 0 1 0 3.2 0a1.6 1.6 0 1 0 -3.2 0zM1103.6 454.54a1.6 1.6 0 1 0 3.2 0a1.6 1.6 0 1 0 -3.2 0zM1109.2 454.54a1.6 1.6 0 1 0 3.2 0a1.6 1.6 0 1 0 -3.2 0zM1124.4 454.54a1.6 1.6 0 1 0 3.2 0a1.6 1.6 0 1 0 -3.2 0zM1143 454.54a1.6 1.6 0 1 0 3.2 0a1.6 1.6 0 1 0 -3.2 0zM1160.6 454.54a1.6 1.6 0 1 0 3.2 0a1.6 1.6 0 1 0 -3.2 0zM1168.6 454.54a1.6 1.6 0 1 0 3.2 0a1.6 1.6 0 1 0 -3.2 0zM1176.4 454.54a1.6 1.6 0 1 0 3.2 0a1.6 1.6 0 1 0 -3.2 0zM1183.8 454.54a1.6 1.6 0 1 0 3.2 0a1.6 1.6 0 1 0 -3.2 0zM1185.8 454.54a1.6 1.6 0 1 0 3.2 0a1.6 1.6 0 1 0 -3.2 0zM1009.8 460.54a1.6 1.6 0 1 0 3.2 0a1.6 1.6 0 1 0 -3.2 0zM1019.6 460.54a1.6 1.6 0 1 0 3.2 0a1.6 1.6 0 1 0 -3.2 0zM1164 460.54a1.6 1.6 0 1 0 3.2 0a1.6 1.6 0 1 0 -3.2 0zM1165.8 460.54a1.6 1.6 0 1 0 3.2 0a1.6 1.6 0 1 0 -3.2 0zM1167.6 460.54a1.6 1.6 0 1 0 3.2 0a1.6 1.6 0 1 0 -3.2 0zM1014.6 466.53a1.6 1.6 0 1 0 3.2 0a1.6 1.6 0 1 0 -3.2 0zM990.91 502.51a1.6 1.6 0 1 0 3.2 0a1.6 1.6 0 1 0 -3.2 0zM992.94 502.51a1.6 1.6 0 1 0 3.2 0a1.6 1.6 0 1 0 -3.2 0zM995.29 502.51a1.6 1.6 0 1 0 3.2 0a1.6 1.6 0 1 0 -3.2 0zM997.16 502.51a1.6 1.6 0 1 0 3.2 0a1.6 1.6 0 1 0 -3.2 0zM1002.98 502.51a1.6 1.6 0 1 0 3.2 0a1.6 1.6 0 1 0 -3.2 0zM1004.28 502.51a1.6 1.6 0 1 0 3.2 0a1.6 1.6 0 1 0 -3.2 0zM1005.58 502.51a1.6 1.6 0 1 0 3.2 0a1.6 1.6 0 1 0 -3.2 0zM1006.88 502.51a1.6 1.6 0 1 0 3.2 0a1.6 1.6 0 1 0 -3.2 0zM1008.18 502.51a1.6 1.6 0 1 0 3.2 0a1.6 1.6 0 1 0 -3.2 0zM1009.48 502.51a1.6 1.6 0 1 0 3.2 0a1.6 1.6 0 1 0 -3.2 0zM1017.05 502.51a1.6 1.6 0 1 0 3.2 0a1.6 1.6 0 1 0 -3.2 0zM1018.31 502.51a1.6 1.6 0 1 0 3.2 0a1.6 1.6 0 1 0 -3.2 0zM1019.57 502.51a1.6 1.6 0 1 0 3.2 0a1.6 1.6 0 1 0 -3.2 0zM1020.82 502.51a1.6 1.6 0 1 0 3.2 0a1.6 1.6 0 1 0 -3.2 0zM1022.08 502.51a1.6 1.6 0 1 0 3.2 0a1.6 1.6 0 1 0 -3.2 0zM1023.33 502.51a1.6 1.6 0 1 0 3.2 0a1.6 1.6 0 1 0 -3.2 0zM1024.59 502.51a1.6 1.6 0 1 0 3.2 0a1.6 1.6 0 1 0 -3.2 0zM1025.85 502.51a1.6 1.6 0 1 0 3.2 0a1.6 1.6 0 1 0 -3.2 0zM1027.1 502.51a1.6 1.6 0 1 0 3.2 0a1.6 1.6 0 1 0 -3.2 0zM1028.36 502.51a1.6 1.6 0 1 0 3.2 0a1.6 1.6 0 1 0 -3.2 0zM1029.61 502.51a1.6 1.6 0 1 0 3.2 0a1.6 1.6 0 1 0 -3.2 0zM1030.87 502.51a1.6 1.6 0 1 0 3.2 0a1.6 1.6 0 1 0 -3.2 0zM1032.13 502.51a1.6 1.6 0 1 0 3.2 0a1.6 1.6 0 1 0 -3.2 0zM1033.38 502.51a1.6 1.6 0 1 0 3.2 0a1.6 1.6 0 1 0 -3.2 0zM1034.64 502.51a1.6 1.6 0 1 0 3.2 0a1.6 1.6 0 1 0 -3.2 0zM1035.9 502.51a1.6 1.6 0 1 0 3.2 0a1.6 1.6 0 1 0 -3.2 0zM1037.15 502.51a1.6 1.6 0 1 0 3.2 0a1.6 1.6 0 1 0 -3.2 0zM1038.41 502.51a1.6 1.6 0 1 0 3.2 0a1.6 1.6 0 1 0 -3.2 0zM1046.57 502.51a1.6 1.6 0 1 0 3.2 0a1.6 1.6 0 1 0 -3.2 0zM1053.14 502.51a1.6 1.6 0 1 0 3.2 0a1.6 1.6 0 1 0 -3.2 0zM1054.7 502.51a1.6 1.6 0 1 0 3.2 0a1.6 1.6 0 1 0 -3.2 0zM1111.77 502.51a1.6 1.6 0 1 0 3.2 0a1.6 1.6 0 1 0 -3.2 0zM1192.76 502.51a1.6 1.6 0 1 0 3.2 0a1.6 1.6 0 1 0 -3.2 0zM994.51 508.5a1.6 1.6 0 1 0 3.2 0a1.6 1.6 0 1 0 -3.2 0zM1001.86 508.5a1.6 1.6 0 1 0 3.2 0a1.6 1.6 0 1 0 -3.2 0zM1003.89 508.5a1.6 1.6 0 1 0 3.2 0a1.6 1.6 0 1 0 -3.2 0zM1006.23 508.5a1.6 1.6 0 1 0 3.2 0a1.6 1.6 0 1 0 -3.2 0zM1009.36 508.5a1.6 1.6 0 1 0 3.2 0a1.6 1.6 0 1 0 -3.2 0zM1018.3 508.5a1.6 1.6 0 1 0 3.2 0a1.6 1.6 0 1 0 -3.2 0zM1019.56 508.5a1.6 1.6 0 1 0 3.2 0a1.6 1.6 0 1 0 -3.2 0zM1020.82 508.5a1.6 1.6 0 1 0 3.2 0a1.6 1.6 0 1 0 -3.2 0zM1022.08 508.5a1.6 1.6 0 1 0 3.2 0a1.6 1.6 0 1 0 -3.2 0zM1023.34 508.5a1.6 1.6 0 1 0 3.2 0a1.6 1.6 0 1 0 -3.2 0zM1024.6 508.5a1.6 1.6 0 1 0 3.2 0a1.6 1.6 0 1 0 -3.2 0zM1025.86 508.5a1.6 1.6 0 1 0 3.2 0a1.6 1.6 0 1 0 -3.2 0zM1027.12 508.5a1.6 1.6 0 1 0 3.2 0a1.6 1.6 0 1 0 -3.2 0zM1028.38 508.5a1.6 1.6 0 1 0 3.2 0a1.6 1.6 0 1 0 -3.2 0zM1029.64 508.5a1.6 1.6 0 1 0 3.2 0a1.6 1.6 0 1 0 -3.2 0zM1030.89 508.5a1.6 1.6 0 1 0 3.2 0a1.6 1.6 0 1 0 -3.2 0zM1032.15 508.5a1.6 1.6 0 1 0 3.2 0a1.6 1.6 0 1 0 -3.2 0zM1038.75 508.5a1.6 1.6 0 1 0 3.2 0a1.6 1.6 0 1 0 -3.2 0zM1048.45 508.5a1.6 1.6 0 1 0 3.2 0a1.6 1.6 0 1 0 -3.2 0zM1054.39 508.5a1.6 1.6 0 1 0 3.2 0a1.6 1.6 0 1 0 -3.2 0zM1096.91 508.5a1.6 1.6 0 1 0 3.2 0a1.6 1.6 0 1 0 -3.2 0zM1103.95 508.5a1.6 1.6 0 1 0 3.2 0a1.6 1.6 0 1 0 -3.2 0zM1106.3 508.5a1.6 1.6 0 1 0 3.2 0a1.6 1.6 0 1 0 -3.2 0zM1118.02 508.5a1.6 1.6 0 1 0 3.2 0a1.6 1.6 0 1 0 -3.2 0zM1126.62 508.5a1.6 1.6 0 1 0 3.2 0a1.6 1.6 0 1 0 -3.2 0zM1184.47 508.5a1.6 1.6 0 1 0 3.2 0a1.6 1.6 0 1 0 -3.2 0z" fill="#050505"/>
<line x1="992.6" y1="507" x2="1194.4" y2="433.4" stroke="#1212e6" stroke-width="2.2"/>
<g font-size="10.7">
<text transform="translate(975.3 518.33) rotate(0.03)" text-anchor="end">0</text><text transform="translate(975.3 488.35) rotate(0.03)" text-anchor="end">5</text><text transform="translate(975.3 458.37) rotate(0.03)" text-anchor="end">10</text><text transform="translate(975.3 428.39) rotate(0.03)" text-anchor="end">15</text><text transform="translate(975.3 398.41) rotate(0.03)" text-anchor="end">20</text><text transform="translate(975.3 368.43) rotate(0.03)" text-anchor="end">25</text>
<text transform="translate(983.5 531.2) rotate(0.03)" text-anchor="middle">70</text><text transform="translate(1039.6 531.2) rotate(0.03)" text-anchor="middle">140</text><text transform="translate(1095.8 531.2) rotate(0.03)" text-anchor="middle">210</text><text transform="translate(1152 531.2) rotate(0.03)" text-anchor="middle">280</text><text transform="translate(1208.3 531.2) rotate(0.03)" text-anchor="middle">350</text>
</g>
<g font-size="10.0">
<text transform="translate(991 350.5) rotate(0.03)">r=0.696</text><text transform="translate(1030.6 350.5) rotate(0.03)"><tspan font-style="italic">P</tspan>&lt;0.0001</text><text font-size="10.37" transform="translate(991 362) rotate(0.03)">95%CI(0.614~0.763)</text>
</g>
<text font-size="11.8" text-anchor="middle" transform="translate(957.02 439.3) rotate(-89.97)">Inpatient days</text>
<text font-size="12.0" text-anchor="middle" transform="translate(1095.6 550.4) rotate(0.03)">TNF-α</text>
</g>
<g id="plotG">
<path d="M1276 365.25V528.15M1275.35 487.1H1518.95M1270.8 527.5H1276M1270.8 487.1H1276M1270.8 446.7H1276M1270.8 406.3H1276M1270.8 365.9H1276M1341.7 487.1V492.3M1429.9 487.1V492.3M1518.3 487.1V492.3" stroke="#0a0a0a" stroke-width="1.6" fill="none"/>
<polygon fill="#c6daf6" points="1294.5,433.92 1301.69,436.57 1308.88,439.22 1316.06,441.86 1323.25,444.48 1330.44,447.1 1337.62,449.71 1344.81,452.31 1352,454.9 1359.19,457.47 1366.38,460.04 1373.56,462.6 1380.75,465.15 1387.94,467.69 1395.12,470.22 1402.31,472.74 1409.5,475.25 1416.69,477.75 1423.88,480.24 1431.06,482.72 1438.25,485.19 1445.44,487.65 1452.62,490.1 1459.81,492.54 1467,494.98 1467,500.18 1459.81,497.53 1452.62,494.88 1445.44,492.24 1438.25,489.62 1431.06,487 1423.88,484.39 1416.69,481.79 1409.5,479.2 1402.31,476.63 1395.12,474.06 1387.94,471.5 1380.75,468.95 1373.56,466.41 1366.38,463.88 1359.19,461.36 1352,458.85 1344.81,456.35 1337.62,453.86 1330.44,451.38 1323.25,448.91 1316.06,446.45 1308.88,444 1301.69,441.56 1294.5,439.12"/>
<path d="M1312.71 398.22a1.9 1.9 0 1 0 3.8 0a1.9 1.9 0 1 0 -3.8 0zM1309.79 410.34a1.9 1.9 0 1 0 3.8 0a1.9 1.9 0 1 0 -3.8 0zM1363.78 410.34a1.9 1.9 0 1 0 3.8 0a1.9 1.9 0 1 0 -3.8 0zM1296.24 414.38a1.9 1.9 0 1 0 3.8 0a1.9 1.9 0 1 0 -3.8 0zM1300.93 414.38a1.9 1.9 0 1 0 3.8 0a1.9 1.9 0 1 0 -3.8 0zM1394.53 414.38a1.9 1.9 0 1 0 3.8 0a1.9 1.9 0 1 0 -3.8 0zM1297.28 418.42a1.9 1.9 0 1 0 3.8 0a1.9 1.9 0 1 0 -3.8 0zM1311.67 418.42a1.9 1.9 0 1 0 3.8 0a1.9 1.9 0 1 0 -3.8 0zM1383.28 418.42a1.9 1.9 0 1 0 3.8 0a1.9 1.9 0 1 0 -3.8 0zM1304.58 422.46a1.9 1.9 0 1 0 3.8 0a1.9 1.9 0 1 0 -3.8 0zM1305.62 422.46a1.9 1.9 0 1 0 3.8 0a1.9 1.9 0 1 0 -3.8 0zM1296.03 426.5a1.9 1.9 0 1 0 3.8 0a1.9 1.9 0 1 0 -3.8 0zM1299.89 426.5a1.9 1.9 0 1 0 3.8 0a1.9 1.9 0 1 0 -3.8 0zM1307.71 426.5a1.9 1.9 0 1 0 3.8 0a1.9 1.9 0 1 0 -3.8 0zM1365.56 426.5a1.9 1.9 0 1 0 3.8 0a1.9 1.9 0 1 0 -3.8 0zM1372.54 426.5a1.9 1.9 0 1 0 3.8 0a1.9 1.9 0 1 0 -3.8 0zM1292.91 430.54a1.9 1.9 0 1 0 3.8 0a1.9 1.9 0 1 0 -3.8 0zM1295.41 430.54a1.9 1.9 0 1 0 3.8 0a1.9 1.9 0 1 0 -3.8 0zM1297.28 430.54a1.9 1.9 0 1 0 3.8 0a1.9 1.9 0 1 0 -3.8 0zM1304.79 430.54a1.9 1.9 0 1 0 3.8 0a1.9 1.9 0 1 0 -3.8 0zM1294.37 434.58a1.9 1.9 0 1 0 3.8 0a1.9 1.9 0 1 0 -3.8 0zM1296.24 434.58a1.9 1.9 0 1 0 3.8 0a1.9 1.9 0 1 0 -3.8 0zM1298.33 434.58a1.9 1.9 0 1 0 3.8 0a1.9 1.9 0 1 0 -3.8 0zM1301.25 434.58a1.9 1.9 0 1 0 3.8 0a1.9 1.9 0 1 0 -3.8 0zM1303.02 434.58a1.9 1.9 0 1 0 3.8 0a1.9 1.9 0 1 0 -3.8 0zM1306.14 434.58a1.9 1.9 0 1 0 3.8 0a1.9 1.9 0 1 0 -3.8 0zM1393.7 434.58a1.9 1.9 0 1 0 3.8 0a1.9 1.9 0 1 0 -3.8 0zM1304.58 438.62a1.9 1.9 0 1 0 3.8 0a1.9 1.9 0 1 0 -3.8 0zM1308.23 438.62a1.9 1.9 0 1 0 3.8 0a1.9 1.9 0 1 0 -3.8 0zM1395.05 438.62a1.9 1.9 0 1 0 3.8 0a1.9 1.9 0 1 0 -3.8 0zM1304.58 442.66a1.9 1.9 0 1 0 3.8 0a1.9 1.9 0 1 0 -3.8 0zM1308.23 442.66a1.9 1.9 0 1 0 3.8 0a1.9 1.9 0 1 0 -3.8 0zM1312.71 442.66a1.9 1.9 0 1 0 3.8 0a1.9 1.9 0 1 0 -3.8 0zM1364.83 442.66a1.9 1.9 0 1 0 3.8 0a1.9 1.9 0 1 0 -3.8 0zM1293.64 446.7a1.9 1.9 0 1 0 3.8 0a1.9 1.9 0 1 0 -3.8 0zM1295.41 446.7a1.9 1.9 0 1 0 3.8 0a1.9 1.9 0 1 0 -3.8 0zM1296.76 446.7a1.9 1.9 0 1 0 3.8 0a1.9 1.9 0 1 0 -3.8 0zM1300.41 446.7a1.9 1.9 0 1 0 3.8 0a1.9 1.9 0 1 0 -3.8 0zM1305.41 446.7a1.9 1.9 0 1 0 3.8 0a1.9 1.9 0 1 0 -3.8 0zM1321.78 446.7a1.9 1.9 0 1 0 3.8 0a1.9 1.9 0 1 0 -3.8 0zM1345.75 446.7a1.9 1.9 0 1 0 3.8 0a1.9 1.9 0 1 0 -3.8 0zM1387.45 446.7a1.9 1.9 0 1 0 3.8 0a1.9 1.9 0 1 0 -3.8 0zM1389.53 446.7a1.9 1.9 0 1 0 3.8 0a1.9 1.9 0 1 0 -3.8 0zM1394.74 446.7a1.9 1.9 0 1 0 3.8 0a1.9 1.9 0 1 0 -3.8 0zM1298.64 450.74a1.9 1.9 0 1 0 3.8 0a1.9 1.9 0 1 0 -3.8 0zM1305.1 450.74a1.9 1.9 0 1 0 3.8 0a1.9 1.9 0 1 0 -3.8 0zM1309.06 450.74a1.9 1.9 0 1 0 3.8 0a1.9 1.9 0 1 0 -3.8 0zM1316.88 450.74a1.9 1.9 0 1 0 3.8 0a1.9 1.9 0 1 0 -3.8 0zM1360.35 450.74a1.9 1.9 0 1 0 3.8 0a1.9 1.9 0 1 0 -3.8 0zM1379.32 450.74a1.9 1.9 0 1 0 3.8 0a1.9 1.9 0 1 0 -3.8 0zM1309.79 454.78a1.9 1.9 0 1 0 3.8 0a1.9 1.9 0 1 0 -3.8 0zM1329.14 479.02a1.9 1.9 0 1 0 3.8 0a1.9 1.9 0 1 0 -3.8 0zM1340.4 479.02a1.9 1.9 0 1 0 3.8 0a1.9 1.9 0 1 0 -3.8 0zM1348.43 479.02a1.9 1.9 0 1 0 3.8 0a1.9 1.9 0 1 0 -3.8 0zM1356.24 479.02a1.9 1.9 0 1 0 3.8 0a1.9 1.9 0 1 0 -3.8 0zM1364.06 479.02a1.9 1.9 0 1 0 3.8 0a1.9 1.9 0 1 0 -3.8 0zM1367.19 479.02a1.9 1.9 0 1 0 3.8 0a1.9 1.9 0 1 0 -3.8 0zM1369.79 479.02a1.9 1.9 0 1 0 3.8 0a1.9 1.9 0 1 0 -3.8 0zM1373.96 479.02a1.9 1.9 0 1 0 3.8 0a1.9 1.9 0 1 0 -3.8 0zM1381.4 479.02a1.9 1.9 0 1 0 3.8 0a1.9 1.9 0 1 0 -3.8 0zM1382.66 479.02a1.9 1.9 0 1 0 3.8 0a1.9 1.9 0 1 0 -3.8 0zM1383.91 479.02a1.9 1.9 0 1 0 3.8 0a1.9 1.9 0 1 0 -3.8 0zM1385.16 479.02a1.9 1.9 0 1 0 3.8 0a1.9 1.9 0 1 0 -3.8 0zM1386.42 479.02a1.9 1.9 0 1 0 3.8 0a1.9 1.9 0 1 0 -3.8 0zM1387.67 479.02a1.9 1.9 0 1 0 3.8 0a1.9 1.9 0 1 0 -3.8 0zM1388.92 479.02a1.9 1.9 0 1 0 3.8 0a1.9 1.9 0 1 0 -3.8 0zM1390.17 479.02a1.9 1.9 0 1 0 3.8 0a1.9 1.9 0 1 0 -3.8 0zM1391.43 479.02a1.9 1.9 0 1 0 3.8 0a1.9 1.9 0 1 0 -3.8 0zM1392.68 479.02a1.9 1.9 0 1 0 3.8 0a1.9 1.9 0 1 0 -3.8 0zM1393.93 479.02a1.9 1.9 0 1 0 3.8 0a1.9 1.9 0 1 0 -3.8 0zM1395.18 479.02a1.9 1.9 0 1 0 3.8 0a1.9 1.9 0 1 0 -3.8 0zM1404.34 479.02a1.9 1.9 0 1 0 3.8 0a1.9 1.9 0 1 0 -3.8 0zM1405.59 479.02a1.9 1.9 0 1 0 3.8 0a1.9 1.9 0 1 0 -3.8 0zM1406.85 479.02a1.9 1.9 0 1 0 3.8 0a1.9 1.9 0 1 0 -3.8 0zM1408.1 479.02a1.9 1.9 0 1 0 3.8 0a1.9 1.9 0 1 0 -3.8 0zM1409.36 479.02a1.9 1.9 0 1 0 3.8 0a1.9 1.9 0 1 0 -3.8 0zM1410.61 479.02a1.9 1.9 0 1 0 3.8 0a1.9 1.9 0 1 0 -3.8 0zM1411.87 479.02a1.9 1.9 0 1 0 3.8 0a1.9 1.9 0 1 0 -3.8 0zM1413.12 479.02a1.9 1.9 0 1 0 3.8 0a1.9 1.9 0 1 0 -3.8 0zM1414.38 479.02a1.9 1.9 0 1 0 3.8 0a1.9 1.9 0 1 0 -3.8 0zM1415.63 479.02a1.9 1.9 0 1 0 3.8 0a1.9 1.9 0 1 0 -3.8 0zM1416.89 479.02a1.9 1.9 0 1 0 3.8 0a1.9 1.9 0 1 0 -3.8 0zM1418.14 479.02a1.9 1.9 0 1 0 3.8 0a1.9 1.9 0 1 0 -3.8 0zM1419.4 479.02a1.9 1.9 0 1 0 3.8 0a1.9 1.9 0 1 0 -3.8 0zM1420.65 479.02a1.9 1.9 0 1 0 3.8 0a1.9 1.9 0 1 0 -3.8 0zM1421.91 479.02a1.9 1.9 0 1 0 3.8 0a1.9 1.9 0 1 0 -3.8 0zM1423.16 479.02a1.9 1.9 0 1 0 3.8 0a1.9 1.9 0 1 0 -3.8 0zM1424.42 479.02a1.9 1.9 0 1 0 3.8 0a1.9 1.9 0 1 0 -3.8 0zM1425.67 479.02a1.9 1.9 0 1 0 3.8 0a1.9 1.9 0 1 0 -3.8 0zM1426.93 479.02a1.9 1.9 0 1 0 3.8 0a1.9 1.9 0 1 0 -3.8 0zM1428.18 479.02a1.9 1.9 0 1 0 3.8 0a1.9 1.9 0 1 0 -3.8 0zM1429.44 479.02a1.9 1.9 0 1 0 3.8 0a1.9 1.9 0 1 0 -3.8 0zM1430.7 479.02a1.9 1.9 0 1 0 3.8 0a1.9 1.9 0 1 0 -3.8 0zM1431.95 479.02a1.9 1.9 0 1 0 3.8 0a1.9 1.9 0 1 0 -3.8 0zM1433.21 479.02a1.9 1.9 0 1 0 3.8 0a1.9 1.9 0 1 0 -3.8 0zM1434.46 479.02a1.9 1.9 0 1 0 3.8 0a1.9 1.9 0 1 0 -3.8 0zM1435.72 479.02a1.9 1.9 0 1 0 3.8 0a1.9 1.9 0 1 0 -3.8 0zM1436.97 479.02a1.9 1.9 0 1 0 3.8 0a1.9 1.9 0 1 0 -3.8 0zM1438.23 479.02a1.9 1.9 0 1 0 3.8 0a1.9 1.9 0 1 0 -3.8 0zM1439.48 479.02a1.9 1.9 0 1 0 3.8 0a1.9 1.9 0 1 0 -3.8 0zM1452.14 479.02a1.9 1.9 0 1 0 3.8 0a1.9 1.9 0 1 0 -3.8 0zM1462.56 479.02a1.9 1.9 0 1 0 3.8 0a1.9 1.9 0 1 0 -3.8 0zM1465.16 479.02a1.9 1.9 0 1 0 3.8 0a1.9 1.9 0 1 0 -3.8 0zM1347.38 483.06a1.9 1.9 0 1 0 3.8 0a1.9 1.9 0 1 0 -3.8 0zM1349.99 483.06a1.9 1.9 0 1 0 3.8 0a1.9 1.9 0 1 0 -3.8 0zM1369.58 483.06a1.9 1.9 0 1 0 3.8 0a1.9 1.9 0 1 0 -3.8 0zM1381.4 483.06a1.9 1.9 0 1 0 3.8 0a1.9 1.9 0 1 0 -3.8 0zM1382.76 483.06a1.9 1.9 0 1 0 3.8 0a1.9 1.9 0 1 0 -3.8 0zM1384.12 483.06a1.9 1.9 0 1 0 3.8 0a1.9 1.9 0 1 0 -3.8 0zM1385.48 483.06a1.9 1.9 0 1 0 3.8 0a1.9 1.9 0 1 0 -3.8 0zM1386.84 483.06a1.9 1.9 0 1 0 3.8 0a1.9 1.9 0 1 0 -3.8 0zM1391.16 483.06a1.9 1.9 0 1 0 3.8 0a1.9 1.9 0 1 0 -3.8 0zM1393.77 483.06a1.9 1.9 0 1 0 3.8 0a1.9 1.9 0 1 0 -3.8 0zM1404.86 483.06a1.9 1.9 0 1 0 3.8 0a1.9 1.9 0 1 0 -3.8 0zM1406.08 483.06a1.9 1.9 0 1 0 3.8 0a1.9 1.9 0 1 0 -3.8 0zM1407.31 483.06a1.9 1.9 0 1 0 3.8 0a1.9 1.9 0 1 0 -3.8 0zM1408.54 483.06a1.9 1.9 0 1 0 3.8 0a1.9 1.9 0 1 0 -3.8 0zM1409.76 483.06a1.9 1.9 0 1 0 3.8 0a1.9 1.9 0 1 0 -3.8 0zM1410.99 483.06a1.9 1.9 0 1 0 3.8 0a1.9 1.9 0 1 0 -3.8 0zM1412.22 483.06a1.9 1.9 0 1 0 3.8 0a1.9 1.9 0 1 0 -3.8 0zM1413.45 483.06a1.9 1.9 0 1 0 3.8 0a1.9 1.9 0 1 0 -3.8 0zM1414.67 483.06a1.9 1.9 0 1 0 3.8 0a1.9 1.9 0 1 0 -3.8 0zM1415.9 483.06a1.9 1.9 0 1 0 3.8 0a1.9 1.9 0 1 0 -3.8 0zM1417.13 483.06a1.9 1.9 0 1 0 3.8 0a1.9 1.9 0 1 0 -3.8 0zM1418.35 483.06a1.9 1.9 0 1 0 3.8 0a1.9 1.9 0 1 0 -3.8 0zM1419.58 483.06a1.9 1.9 0 1 0 3.8 0a1.9 1.9 0 1 0 -3.8 0zM1420.81 483.06a1.9 1.9 0 1 0 3.8 0a1.9 1.9 0 1 0 -3.8 0zM1422.03 483.06a1.9 1.9 0 1 0 3.8 0a1.9 1.9 0 1 0 -3.8 0zM1423.26 483.06a1.9 1.9 0 1 0 3.8 0a1.9 1.9 0 1 0 -3.8 0zM1424.49 483.06a1.9 1.9 0 1 0 3.8 0a1.9 1.9 0 1 0 -3.8 0zM1425.71 483.06a1.9 1.9 0 1 0 3.8 0a1.9 1.9 0 1 0 -3.8 0zM1426.94 483.06a1.9 1.9 0 1 0 3.8 0a1.9 1.9 0 1 0 -3.8 0zM1428.17 483.06a1.9 1.9 0 1 0 3.8 0a1.9 1.9 0 1 0 -3.8 0zM1429.39 483.06a1.9 1.9 0 1 0 3.8 0a1.9 1.9 0 1 0 -3.8 0zM1430.62 483.06a1.9 1.9 0 1 0 3.8 0a1.9 1.9 0 1 0 -3.8 0zM1437.54 483.06a1.9 1.9 0 1 0 3.8 0a1.9 1.9 0 1 0 -3.8 0zM1439.63 483.06a1.9 1.9 0 1 0 3.8 0a1.9 1.9 0 1 0 -3.8 0zM1454.74 483.06a1.9 1.9 0 1 0 3.8 0a1.9 1.9 0 1 0 -3.8 0zM1464.64 483.06a1.9 1.9 0 1 0 3.8 0a1.9 1.9 0 1 0 -3.8 0z" fill="#050505"/>
<line x1="1295" y1="436.7" x2="1466.5" y2="497.4" stroke="#1212e6" stroke-width="2.5"/>
<g font-size="11.9">
<text transform="translate(1269 531.76) rotate(0.03)" text-anchor="end">-10</text><text transform="translate(1269 491.36) rotate(0.03)" text-anchor="end">0</text><text transform="translate(1269 450.96) rotate(0.03)" text-anchor="end">10</text><text transform="translate(1269 410.56) rotate(0.03)" text-anchor="end">20</text><text transform="translate(1269 370.16) rotate(0.03)" text-anchor="end">30</text>
<text transform="translate(1341.7 505.2) rotate(0.03)" text-anchor="middle">40</text><text transform="translate(1429.9 505.2) rotate(0.03)" text-anchor="middle">80</text><text transform="translate(1518.3 505.2) rotate(0.03)" text-anchor="middle">120</text>
</g>
<g font-size="11.2">
<text transform="translate(1282.4 349) rotate(0.03)">r=-0.735</text><text transform="translate(1346 349) rotate(0.03)"><tspan font-style="italic">P</tspan>&lt;0.0001</text><text transform="translate(1282.4 361.5) rotate(0.03)">95%CI(-0.795~-0.661)</text>
</g>
<text font-size="13.0" text-anchor="middle" transform="translate(1396.7 526) rotate(0.03)">IL-10</text>
<path d="M1243.8 412.7L1246.3 415.4" stroke="#111" stroke-width="1.1" stroke-linecap="round" fill="none"/><circle cx="1245.1" cy="478" r="0.95" fill="#111"/>
</g>
<g id="plotI">
<line x1="856.4" y1="861.1" x2="1105.4" y2="649.2" stroke="#f4a460" stroke-width="1.3" stroke-dasharray="2.8 2.5" stroke-dashoffset="1.2"/>
<path d="M856.4 648.3V870.1M847 861.1H1106.3M847 818.72H856.4M906.2 861.1V870.1M847 776.34H856.4M956 861.1V870.1M847 733.96H856.4M1005.8 861.1V870.1M847 691.58H856.4M1055.6 861.1V870.1M847 649.2H856.4M1105.4 861.1V870.1" stroke="#000" stroke-width="1.8" fill="none"/>
<g stroke="#00f0ff" fill="none"><path d="M856.4 730.11V730.11H860.3V718.55H868.8V714.7H870.5V710.84H873V706.99H879.5V699.29H880.7V683.87H893.8V680.02H900V676.17H908.9V664.61H919.5V660.76H927.5V656.91H932V653.05H938.5V649.2H1105.4" stroke-width="1.1"/><path d="M856.4 730.11H860.3M860.3 718.55H868.8M868.8 714.7H870.5M870.5 710.84H873M873 706.99H879.5M879.5 699.29H880.7M880.7 683.87H893.8M893.8 680.02H900M900 676.17H908.9M908.9 664.61H919.5M919.5 660.76H927.5M927.5 656.91H932M932 653.05H938.5M938.5 649.2H1105.4" stroke-width="1.7"/><path d="M855.35 730.11a1.05 1.05 0 1 0 2.1 0a1.05 1.05 0 1 0 -2.1 0zM859.25 730.11a1.05 1.05 0 1 0 2.1 0a1.05 1.05 0 1 0 -2.1 0zM859.25 726.25a1.05 1.05 0 1 0 2.1 0a1.05 1.05 0 1 0 -2.1 0zM859.25 722.4a1.05 1.05 0 1 0 2.1 0a1.05 1.05 0 1 0 -2.1 0zM859.25 718.55a1.05 1.05 0 1 0 2.1 0a1.05 1.05 0 1 0 -2.1 0zM867.75 718.55a1.05 1.05 0 1 0 2.1 0a1.05 1.05 0 1 0 -2.1 0zM867.75 714.7a1.05 1.05 0 1 0 2.1 0a1.05 1.05 0 1 0 -2.1 0zM869.45 714.7a1.05 1.05 0 1 0 2.1 0a1.05 1.05 0 1 0 -2.1 0zM869.45 710.84a1.05 1.05 0 1 0 2.1 0a1.05 1.05 0 1 0 -2.1 0zM871.95 710.84a1.05 1.05 0 1 0 2.1 0a1.05 1.05 0 1 0 -2.1 0zM871.95 706.99a1.05 1.05 0 1 0 2.1 0a1.05 1.05 0 1 0 -2.1 0zM878.45 706.99a1.05 1.05 0 1 0 2.1 0a1.05 1.05 0 1 0 -2.1 0zM878.45 703.14a1.05 1.05 0 1 0 2.1 0a1.05 1.05 0 1 0 -2.1 0zM878.45 699.29a1.05 1.05 0 1 0 2.1 0a1.05 1.05 0 1 0 -2.1 0zM879.65 699.29a1.05 1.05 0 1 0 2.1 0a1.05 1.05 0 1 0 -2.1 0zM879.65 695.43a1.05 1.05 0 1 0 2.1 0a1.05 1.05 0 1 0 -2.1 0zM879.65 691.58a1.05 1.05 0 1 0 2.1 0a1.05 1.05 0 1 0 -2.1 0zM879.65 687.73a1.05 1.05 0 1 0 2.1 0a1.05 1.05 0 1 0 -2.1 0zM879.65 683.87a1.05 1.05 0 1 0 2.1 0a1.05 1.05 0 1 0 -2.1 0zM892.75 683.87a1.05 1.05 0 1 0 2.1 0a1.05 1.05 0 1 0 -2.1 0zM892.75 680.02a1.05 1.05 0 1 0 2.1 0a1.05 1.05 0 1 0 -2.1 0zM898.95 680.02a1.05 1.05 0 1 0 2.1 0a1.05 1.05 0 1 0 -2.1 0zM898.95 676.17a1.05 1.05 0 1 0 2.1 0a1.05 1.05 0 1 0 -2.1 0zM907.85 676.17a1.05 1.05 0 1 0 2.1 0a1.05 1.05 0 1 0 -2.1 0zM907.85 672.32a1.05 1.05 0 1 0 2.1 0a1.05 1.05 0 1 0 -2.1 0zM907.85 668.46a1.05 1.05 0 1 0 2.1 0a1.05 1.05 0 1 0 -2.1 0zM907.85 664.61a1.05 1.05 0 1 0 2.1 0a1.05 1.05 0 1 0 -2.1 0zM918.45 664.61a1.05 1.05 0 1 0 2.1 0a1.05 1.05 0 1 0 -2.1 0zM918.45 660.76a1.05 1.05 0 1 0 2.1 0a1.05 1.05 0 1 0 -2.1 0zM926.45 660.76a1.05 1.05 0 1 0 2.1 0a1.05 1.05 0 1 0 -2.1 0zM926.45 656.91a1.05 1.05 0 1 0 2.1 0a1.05 1.05 0 1 0 -2.1 0zM930.95 656.91a1.05 1.05 0 1 0 2.1 0a1.05 1.05 0 1 0 -2.1 0zM930.95 653.05a1.05 1.05 0 1 0 2.1 0a1.05 1.05 0 1 0 -2.1 0zM937.45 653.05a1.05 1.05 0 1 0 2.1 0a1.05 1.05 0 1 0 -2.1 0zM937.45 649.2a1.05 1.05 0 1 0 2.1 0a1.05 1.05 0 1 0 -2.1 0z" fill="#00f0ff" stroke="none"/></g>
<g stroke="#00b400" fill="none"><path d="M860 749.37V749.37H863.8V718.55H867.5V695.43H869.1V683.87H876.9V680.02H890.1V672.32H900.1V668.46H901.3V664.61H975.3V660.76H988.4V656.91H1008.5V653.05H1092.7V649.2H1105.4" stroke-width="1.1"/><path d="M860 749.37H863.8M863.8 718.55H867.5M867.5 695.43H869.1M869.1 683.87H876.9M876.9 680.02H890.1M890.1 672.32H900.1M900.1 668.46H901.3M901.3 664.61H975.3M975.3 660.76H988.4M988.4 656.91H1008.5M1008.5 653.05H1092.7M1092.7 649.2H1105.4" stroke-width="1.7"/><path d="M858.95 749.37a1.05 1.05 0 1 0 2.1 0a1.05 1.05 0 1 0 -2.1 0zM862.75 749.37a1.05 1.05 0 1 0 2.1 0a1.05 1.05 0 1 0 -2.1 0zM862.75 745.52a1.05 1.05 0 1 0 2.1 0a1.05 1.05 0 1 0 -2.1 0zM862.75 741.67a1.05 1.05 0 1 0 2.1 0a1.05 1.05 0 1 0 -2.1 0zM862.75 737.81a1.05 1.05 0 1 0 2.1 0a1.05 1.05 0 1 0 -2.1 0zM862.75 733.96a1.05 1.05 0 1 0 2.1 0a1.05 1.05 0 1 0 -2.1 0zM862.75 730.11a1.05 1.05 0 1 0 2.1 0a1.05 1.05 0 1 0 -2.1 0zM862.75 726.25a1.05 1.05 0 1 0 2.1 0a1.05 1.05 0 1 0 -2.1 0zM862.75 722.4a1.05 1.05 0 1 0 2.1 0a1.05 1.05 0 1 0 -2.1 0zM862.75 718.55a1.05 1.05 0 1 0 2.1 0a1.05 1.05 0 1 0 -2.1 0zM866.45 718.55a1.05 1.05 0 1 0 2.1 0a1.05 1.05 0 1 0 -2.1 0zM866.45 714.7a1.05 1.05 0 1 0 2.1 0a1.05 1.05 0 1 0 -2.1 0zM866.45 710.84a1.05 1.05 0 1 0 2.1 0a1.05 1.05 0 1 0 -2.1 0zM866.45 706.99a1.05 1.05 0 1 0 2.1 0a1.05 1.05 0 1 0 -2.1 0zM866.45 703.14a1.05 1.05 0 1 0 2.1 0a1.05 1.05 0 1 0 -2.1 0zM866.45 699.29a1.05 1.05 0 1 0 2.1 0a1.05 1.05 0 1 0 -2.1 0zM866.45 695.43a1.05 1.05 0 1 0 2.1 0a1.05 1.05 0 1 0 -2.1 0zM868.05 695.43a1.05 1.05 0 1 0 2.1 0a1.05 1.05 0 1 0 -2.1 0zM868.05 691.58a1.05 1.05 0 1 0 2.1 0a1.05 1.05 0 1 0 -2.1 0zM868.05 687.73a1.05 1.05 0 1 0 2.1 0a1.05 1.05 0 1 0 -2.1 0zM868.05 683.87a1.05 1.05 0 1 0 2.1 0a1.05 1.05 0 1 0 -2.1 0zM875.85 683.87a1.05 1.05 0 1 0 2.1 0a1.05 1.05 0 1 0 -2.1 0zM875.85 680.02a1.05 1.05 0 1 0 2.1 0a1.05 1.05 0 1 0 -2.1 0zM889.05 680.02a1.05 1.05 0 1 0 2.1 0a1.05 1.05 0 1 0 -2.1 0zM889.05 676.17a1.05 1.05 0 1 0 2.1 0a1.05 1.05 0 1 0 -2.1 0zM889.05 672.32a1.05 1.05 0 1 0 2.1 0a1.05 1.05 0 1 0 -2.1 0zM899.05 672.32a1.05 1.05 0 1 0 2.1 0a1.05 1.05 0 1 0 -2.1 0zM899.05 668.46a1.05 1.05 0 1 0 2.1 0a1.05 1.05 0 1 0 -2.1 0zM900.25 668.46a1.05 1.05 0 1 0 2.1 0a1.05 1.05 0 1 0 -2.1 0zM900.25 664.61a1.05 1.05 0 1 0 2.1 0a1.05 1.05 0 1 0 -2.1 0zM974.25 664.61a1.05 1.05 0 1 0 2.1 0a1.05 1.05 0 1 0 -2.1 0zM974.25 660.76a1.05 1.05 0 1 0 2.1 0a1.05 1.05 0 1 0 -2.1 0zM987.35 660.76a1.05 1.05 0 1 0 2.1 0a1.05 1.05 0 1 0 -2.1 0zM987.35 656.91a1.05 1.05 0 1 0 2.1 0a1.05 1.05 0 1 0 -2.1 0zM1007.45 656.91a1.05 1.05 0 1 0 2.1 0a1.05 1.05 0 1 0 -2.1 0zM1007.45 653.05a1.05 1.05 0 1 0 2.1 0a1.05 1.05 0 1 0 -2.1 0zM1091.65 653.05a1.05 1.05 0 1 0 2.1 0a1.05 1.05 0 1 0 -2.1 0zM1091.65 649.2a1.05 1.05 0 1 0 2.1 0a1.05 1.05 0 1 0 -2.1 0z" fill="#00b400" stroke="none"/></g>
<g stroke="#ff0000" fill="none"><path d="M858 861.1V845.69H860V733.96H863.5V714.7H865.7V710.84H870V691.58H903.6V687.73H905.1V683.87H926V680.02H933.9V676.17H967.1V672.32H1001.4V656.91H1012.5V653.05H1018.8V649.2H1105.4" stroke-width="1.1"/><path d="M858 845.69H860M860 733.96H863.5M863.5 714.7H865.7M865.7 710.84H870M870 691.58H903.6M903.6 687.73H905.1M905.1 683.87H926M926 680.02H933.9M933.9 676.17H967.1M967.1 672.32H1001.4M1001.4 656.91H1012.5M1012.5 653.05H1018.8M1018.8 649.2H1105.4" stroke-width="1.7"/><path d="M856.95 861.1a1.05 1.05 0 1 0 2.1 0a1.05 1.05 0 1 0 -2.1 0zM856.95 857.25a1.05 1.05 0 1 0 2.1 0a1.05 1.05 0 1 0 -2.1 0zM856.95 853.39a1.05 1.05 0 1 0 2.1 0a1.05 1.05 0 1 0 -2.1 0zM856.95 849.54a1.05 1.05 0 1 0 2.1 0a1.05 1.05 0 1 0 -2.1 0zM856.95 845.69a1.05 1.05 0 1 0 2.1 0a1.05 1.05 0 1 0 -2.1 0zM858.95 845.69a1.05 1.05 0 1 0 2.1 0a1.05 1.05 0 1 0 -2.1 0zM858.95 841.84a1.05 1.05 0 1 0 2.1 0a1.05 1.05 0 1 0 -2.1 0zM858.95 837.98a1.05 1.05 0 1 0 2.1 0a1.05 1.05 0 1 0 -2.1 0zM858.95 834.13a1.05 1.05 0 1 0 2.1 0a1.05 1.05 0 1 0 -2.1 0zM858.95 830.28a1.05 1.05 0 1 0 2.1 0a1.05 1.05 0 1 0 -2.1 0zM858.95 826.43a1.05 1.05 0 1 0 2.1 0a1.05 1.05 0 1 0 -2.1 0zM858.95 822.57a1.05 1.05 0 1 0 2.1 0a1.05 1.05 0 1 0 -2.1 0zM858.95 818.72a1.05 1.05 0 1 0 2.1 0a1.05 1.05 0 1 0 -2.1 0zM858.95 814.87a1.05 1.05 0 1 0 2.1 0a1.05 1.05 0 1 0 -2.1 0zM858.95 811.01a1.05 1.05 0 1 0 2.1 0a1.05 1.05 0 1 0 -2.1 0zM858.95 807.16a1.05 1.05 0 1 0 2.1 0a1.05 1.05 0 1 0 -2.1 0zM858.95 803.31a1.05 1.05 0 1 0 2.1 0a1.05 1.05 0 1 0 -2.1 0zM858.95 799.46a1.05 1.05 0 1 0 2.1 0a1.05 1.05 0 1 0 -2.1 0zM858.95 795.6a1.05 1.05 0 1 0 2.1 0a1.05 1.05 0 1 0 -2.1 0zM858.95 791.75a1.05 1.05 0 1 0 2.1 0a1.05 1.05 0 1 0 -2.1 0zM858.95 787.9a1.05 1.05 0 1 0 2.1 0a1.05 1.05 0 1 0 -2.1 0zM858.95 784.05a1.05 1.05 0 1 0 2.1 0a1.05 1.05 0 1 0 -2.1 0zM858.95 780.19a1.05 1.05 0 1 0 2.1 0a1.05 1.05 0 1 0 -2.1 0zM858.95 776.34a1.05 1.05 0 1 0 2.1 0a1.05 1.05 0 1 0 -2.1 0zM858.95 772.49a1.05 1.05 0 1 0 2.1 0a1.05 1.05 0 1 0 -2.1 0zM858.95 768.63a1.05 1.05 0 1 0 2.1 0a1.05 1.05 0 1 0 -2.1 0zM858.95 764.78a1.05 1.05 0 1 0 2.1 0a1.05 1.05 0 1 0 -2.1 0zM858.95 760.93a1.05 1.05 0 1 0 2.1 0a1.05 1.05 0 1 0 -2.1 0zM858.95 757.08a1.05 1.05 0 1 0 2.1 0a1.05 1.05 0 1 0 -2.1 0zM858.95 753.22a1.05 1.05 0 1 0 2.1 0a1.05 1.05 0 1 0 -2.1 0zM858.95 749.37a1.05 1.05 0 1 0 2.1 0a1.05 1.05 0 1 0 -2.1 0zM858.95 745.52a1.05 1.05 0 1 0 2.1 0a1.05 1.05 0 1 0 -2.1 0zM858.95 741.67a1.05 1.05 0 1 0 2.1 0a1.05 1.05 0 1 0 -2.1 0zM858.95 737.81a1.05 1.05 0 1 0 2.1 0a1.05 1.05 0 1 0 -2.1 0zM858.95 733.96a1.05 1.05 0 1 0 2.1 0a1.05 1.05 0 1 0 -2.1 0zM862.45 733.96a1.05 1.05 0 1 0 2.1 0a1.05 1.05 0 1 0 -2.1 0zM862.45 730.11a1.05 1.05 0 1 0 2.1 0a1.05 1.05 0 1 0 -2.1 0zM862.45 726.25a1.05 1.05 0 1 0 2.1 0a1.05 1.05 0 1 0 -2.1 0zM862.45 722.4a1.05 1.05 0 1 0 2.1 0a1.05 1.05 0 1 0 -2.1 0zM862.45 718.55a1.05 1.05 0 1 0 2.1 0a1.05 1.05 0 1 0 -2.1 0zM862.45 714.7a1.05 1.05 0 1 0 2.1 0a1.05 1.05 0 1 0 -2.1 0zM864.65 714.7a1.05 1.05 0 1 0 2.1 0a1.05 1.05 0 1 0 -2.1 0zM864.65 710.84a1.05 1.05 0 1 0 2.1 0a1.05 1.05 0 1 0 -2.1 0zM868.95 710.84a1.05 1.05 0 1 0 2.1 0a1.05 1.05 0 1 0 -2.1 0zM868.95 706.99a1.05 1.05 0 1 0 2.1 0a1.05 1.05 0 1 0 -2.1 0zM868.95 703.14a1.05 1.05 0 1 0 2.1 0a1.05 1.05 0 1 0 -2.1 0zM868.95 699.29a1.05 1.05 0 1 0 2.1 0a1.05 1.05 0 1 0 -2.1 0zM868.95 695.43a1.05 1.05 0 1 0 2.1 0a1.05 1.05 0 1 0 -2.1 0zM868.95 691.58a1.05 1.05 0 1 0 2.1 0a1.05 1.05 0 1 0 -2.1 0zM902.55 691.58a1.05 1.05 0 1 0 2.1 0a1.05 1.05 0 1 0 -2.1 0zM902.55 687.73a1.05 1.05 0 1 0 2.1 0a1.05 1.05 0 1 0 -2.1 0zM904.05 687.73a1.05 1.05 0 1 0 2.1 0a1.05 1.05 0 1 0 -2.1 0zM904.05 683.87a1.05 1.05 0 1 0 2.1 0a1.05 1.05 0 1 0 -2.1 0zM924.95 683.87a1.05 1.05 0 1 0 2.1 0a1.05 1.05 0 1 0 -2.1 0zM924.95 680.02a1.05 1.05 0 1 0 2.1 0a1.05 1.05 0 1 0 -2.1 0zM932.85 680.02a1.05 1.05 0 1 0 2.1 0a1.05 1.05 0 1 0 -2.1 0zM932.85 676.17a1.05 1.05 0 1 0 2.1 0a1.05 1.05 0 1 0 -2.1 0zM966.05 676.17a1.05 1.05 0 1 0 2.1 0a1.05 1.05 0 1 0 -2.1 0zM966.05 672.32a1.05 1.05 0 1 0 2.1 0a1.05 1.05 0 1 0 -2.1 0zM1000.35 672.32a1.05 1.05 0 1 0 2.1 0a1.05 1.05 0 1 0 -2.1 0zM1000.35 668.46a1.05 1.05 0 1 0 2.1 0a1.05 1.05 0 1 0 -2.1 0zM1000.35 664.61a1.05 1.05 0 1 0 2.1 0a1.05 1.05 0 1 0 -2.1 0zM1000.35 660.76a1.05 1.05 0 1 0 2.1 0a1.05 1.05 0 1 0 -2.1 0zM1000.35 656.91a1.05 1.05 0 1 0 2.1 0a1.05 1.05 0 1 0 -2.1 0zM1011.45 656.91a1.05 1.05 0 1 0 2.1 0a1.05 1.05 0 1 0 -2.1 0zM1011.45 653.05a1.05 1.05 0 1 0 2.1 0a1.05 1.05 0 1 0 -2.1 0zM1017.75 653.05a1.05 1.05 0 1 0 2.1 0a1.05 1.05 0 1 0 -2.1 0zM1017.75 649.2a1.05 1.05 0 1 0 2.1 0a1.05 1.05 0 1 0 -2.1 0z" fill="#ff0000" stroke="none"/></g>
<g stroke="#0000ff" fill="none"><path d="M856.4 768.63V710.84H861.9V706.99H871.6V699.29H875V691.58H886.6V687.73H888.2V683.87H918.3V680.02H922V676.17H939V668.46H955.9V664.61H962V653.05H977.8V649.2H1105.4" stroke-width="1.1"/><path d="M856.4 710.84H861.9M861.9 706.99H871.6M871.6 699.29H875M875 691.58H886.6M886.6 687.73H888.2M888.2 683.87H918.3M918.3 680.02H922M922 676.17H939M939 668.46H955.9M955.9 664.61H962M962 653.05H977.8M977.8 649.2H1105.4" stroke-width="1.7"/><path d="M855.35 768.63a1.05 1.05 0 1 0 2.1 0a1.05 1.05 0 1 0 -2.1 0zM855.35 764.78a1.05 1.05 0 1 0 2.1 0a1.05 1.05 0 1 0 -2.1 0zM855.35 760.93a1.05 1.05 0 1 0 2.1 0a1.05 1.05 0 1 0 -2.1 0zM855.35 757.08a1.05 1.05 0 1 0 2.1 0a1.05 1.05 0 1 0 -2.1 0zM855.35 753.22a1.05 1.05 0 1 0 2.1 0a1.05 1.05 0 1 0 -2.1 0zM855.35 749.37a1.05 1.05 0 1 0 2.1 0a1.05 1.05 0 1 0 -2.1 0zM855.35 745.52a1.05 1.05 0 1 0 2.1 0a1.05 1.05 0 1 0 -2.1 0zM855.35 741.67a1.05 1.05 0 1 0 2.1 0a1.05 1.05 0 1 0 -2.1 0zM855.35 737.81a1.05 1.05 0 1 0 2.1 0a1.05 1.05 0 1 0 -2.1 0zM855.35 733.96a1.05 1.05 0 1 0 2.1 0a1.05 1.05 0 1 0 -2.1 0zM855.35 730.11a1.05 1.05 0 1 0 2.1 0a1.05 1.05 0 1 0 -2.1 0zM855.35 726.25a1.05 1.05 0 1 0 2.1 0a1.05 1.05 0 1 0 -2.1 0zM855.35 722.4a1.05 1.05 0 1 0 2.1 0a1.05 1.05 0 1 0 -2.1 0zM855.35 718.55a1.05 1.05 0 1 0 2.1 0a1.05 1.05 0 1 0 -2.1 0zM855.35 714.7a1.05 1.05 0 1 0 2.1 0a1.05 1.05 0 1 0 -2.1 0zM855.35 710.84a1.05 1.05 0 1 0 2.1 0a1.05 1.05 0 1 0 -2.1 0zM860.85 710.84a1.05 1.05 0 1 0 2.1 0a1.05 1.05 0 1 0 -2.1 0zM860.85 706.99a1.05 1.05 0 1 0 2.1 0a1.05 1.05 0 1 0 -2.1 0zM870.55 706.99a1.05 1.05 0 1 0 2.1 0a1.05 1.05 0 1 0 -2.1 0zM870.55 703.14a1.05 1.05 0 1 0 2.1 0a1.05 1.05 0 1 0 -2.1 0zM870.55 699.29a1.05 1.05 0 1 0 2.1 0a1.05 1.05 0 1 0 -2.1 0zM873.95 699.29a1.05 1.05 0 1 0 2.1 0a1.05 1.05 0 1 0 -2.1 0zM873.95 695.43a1.05 1.05 0 1 0 2.1 0a1.05 1.05 0 1 0 -2.1 0zM873.95 691.58a1.05 1.05 0 1 0 2.1 0a1.05 1.05 0 1 0 -2.1 0zM885.55 691.58a1.05 1.05 0 1 0 2.1 0a1.05 1.05 0 1 0 -2.1 0zM885.55 687.73a1.05 1.05 0 1 0 2.1 0a1.05 1.05 0 1 0 -2.1 0zM887.15 687.73a1.05 1.05 0 1 0 2.1 0a1.05 1.05 0 1 0 -2.1 0zM887.15 683.87a1.05 1.05 0 1 0 2.1 0a1.05 1.05 0 1 0 -2.1 0zM917.25 683.87a1.05 1.05 0 1 0 2.1 0a1.05 1.05 0 1 0 -2.1 0zM917.25 680.02a1.05 1.05 0 1 0 2.1 0a1.05 1.05 0 1 0 -2.1 0zM920.95 680.02a1.05 1.05 0 1 0 2.1 0a1.05 1.05 0 1 0 -2.1 0zM920.95 676.17a1.05 1.05 0 1 0 2.1 0a1.05 1.05 0 1 0 -2.1 0zM937.95 676.17a1.05 1.05 0 1 0 2.1 0a1.05 1.05 0 1 0 -2.1 0zM937.95 672.32a1.05 1.05 0 1 0 2.1 0a1.05 1.05 0 1 0 -2.1 0zM937.95 668.46a1.05 1.05 0 1 0 2.1 0a1.05 1.05 0 1 0 -2.1 0zM954.85 668.46a1.05 1.05 0 1 0 2.1 0a1.05 1.05 0 1 0 -2.1 0zM954.85 664.61a1.05 1.05 0 1 0 2.1 0a1.05 1.05 0 1 0 -2.1 0zM960.95 664.61a1.05 1.05 0 1 0 2.1 0a1.05 1.05 0 1 0 -2.1 0zM960.95 660.76a1.05 1.05 0 1 0 2.1 0a1.05 1.05 0 1 0 -2.1 0zM960.95 656.91a1.05 1.05 0 1 0 2.1 0a1.05 1.05 0 1 0 -2.1 0zM960.95 653.05a1.05 1.05 0 1 0 2.1 0a1.05 1.05 0 1 0 -2.1 0zM976.75 653.05a1.05 1.05 0 1 0 2.1 0a1.05 1.05 0 1 0 -2.1 0zM976.75 649.2a1.05 1.05 0 1 0 2.1 0a1.05 1.05 0 1 0 -2.1 0z" fill="#0000ff" stroke="none"/></g>
<g stroke="#a818f0" fill="none"><path d="M856.4 787.9V787.9H861.6V768.63H863.5V764.78H871.9V757.08H875.7V749.37H881V741.67H884.1V737.81H896.3V733.96H897.9V726.25H902V722.4H903.2V718.55H909.2V699.29H914.7V668.46H942.7V664.61H944V660.76H948.3V656.91H950.8V649.2H1105.4" stroke-width="1.1"/><path d="M856.4 787.9H861.6M861.6 768.63H863.5M863.5 764.78H871.9M871.9 757.08H875.7M875.7 749.37H881M881 741.67H884.1M884.1 737.81H896.3M896.3 733.96H897.9M897.9 726.25H902M902 722.4H903.2M903.2 718.55H909.2M909.2 699.29H914.7M914.7 668.46H942.7M942.7 664.61H944M944 660.76H948.3M948.3 656.91H950.8M950.8 649.2H1105.4" stroke-width="1.7"/><path d="M855.35 787.9a1.05 1.05 0 1 0 2.1 0a1.05 1.05 0 1 0 -2.1 0zM860.55 787.9a1.05 1.05 0 1 0 2.1 0a1.05 1.05 0 1 0 -2.1 0zM860.55 784.05a1.05 1.05 0 1 0 2.1 0a1.05 1.05 0 1 0 -2.1 0zM860.55 780.19a1.05 1.05 0 1 0 2.1 0a1.05 1.05 0 1 0 -2.1 0zM860.55 776.34a1.05 1.05 0 1 0 2.1 0a1.05 1.05 0 1 0 -2.1 0zM860.55 772.49a1.05 1.05 0 1 0 2.1 0a1.05 1.05 0 1 0 -2.1 0zM860.55 768.63a1.05 1.05 0 1 0 2.1 0a1.05 1.05 0 1 0 -2.1 0zM862.45 768.63a1.05 1.05 0 1 0 2.1 0a1.05 1.05 0 1 0 -2.1 0zM862.45 764.78a1.05 1.05 0 1 0 2.1 0a1.05 1.05 0 1 0 -2.1 0zM870.85 764.78a1.05 1.05 0 1 0 2.1 0a1.05 1.05 0 1 0 -2.1 0zM870.85 760.93a1.05 1.05 0 1 0 2.1 0a1.05 1.05 0 1 0 -2.1 0zM870.85 757.08a1.05 1.05 0 1 0 2.1 0a1.05 1.05 0 1 0 -2.1 0zM874.65 757.08a1.05 1.05 0 1 0 2.1 0a1.05 1.05 0 1 0 -2.1 0zM874.65 753.22a1.05 1.05 0 1 0 2.1 0a1.05 1.05 0 1 0 -2.1 0zM874.65 749.37a1.05 1.05 0 1 0 2.1 0a1.05 1.05 0 1 0 -2.1 0zM879.95 749.37a1.05 1.05 0 1 0 2.1 0a1.05 1.05 0 1 0 -2.1 0zM879.95 745.52a1.05 1.05 0 1 0 2.1 0a1.05 1.05 0 1 0 -2.1 0zM879.95 741.67a1.05 1.05 0 1 0 2.1 0a1.05 1.05 0 1 0 -2.1 0zM883.05 741.67a1.05 1.05 0 1 0 2.1 0a1.05 1.05 0 1 0 -2.1 0zM883.05 737.81a1.05 1.05 0 1 0 2.1 0a1.05 1.05 0 1 0 -2.1 0zM895.25 737.81a1.05 1.05 0 1 0 2.1 0a1.05 1.05 0 1 0 -2.1 0zM895.25 733.96a1.05 1.05 0 1 0 2.1 0a1.05 1.05 0 1 0 -2.1 0zM896.85 733.96a1.05 1.05 0 1 0 2.1 0a1.05 1.05 0 1 0 -2.1 0zM896.85 730.11a1.05 1.05 0 1 0 2.1 0a1.05 1.05 0 1 0 -2.1 0zM896.85 726.25a1.05 1.05 0 1 0 2.1 0a1.05 1.05 0 1 0 -2.1 0zM900.95 726.25a1.05 1.05 0 1 0 2.1 0a1.05 1.05 0 1 0 -2.1 0zM900.95 722.4a1.05 1.05 0 1 0 2.1 0a1.05 1.05 0 1 0 -2.1 0zM902.15 722.4a1.05 1.05 0 1 0 2.1 0a1.05 1.05 0 1 0 -2.1 0zM902.15 718.55a1.05 1.05 0 1 0 2.1 0a1.05 1.05 0 1 0 -2.1 0zM908.15 718.55a1.05 1.05 0 1 0 2.1 0a1.05 1.05 0 1 0 -2.1 0zM908.15 714.7a1.05 1.05 0 1 0 2.1 0a1.05 1.05 0 1 0 -2.1 0zM908.15 710.84a1.05 1.05 0 1 0 2.1 0a1.05 1.05 0 1 0 -2.1 0zM908.15 706.99a1.05 1.05 0 1 0 2.1 0a1.05 1.05 0 1 0 -2.1 0zM908.15 703.14a1.05 1.05 0 1 0 2.1 0a1.05 1.05 0 1 0 -2.1 0zM908.15 699.29a1.05 1.05 0 1 0 2.1 0a1.05 1.05 0 1 0 -2.1 0zM913.65 699.29a1.05 1.05 0 1 0 2.1 0a1.05 1.05 0 1 0 -2.1 0zM913.65 695.43a1.05 1.05 0 1 0 2.1 0a1.05 1.05 0 1 0 -2.1 0zM913.65 691.58a1.05 1.05 0 1 0 2.1 0a1.05 1.05 0 1 0 -2.1 0zM913.65 687.73a1.05 1.05 0 1 0 2.1 0a1.05 1.05 0 1 0 -2.1 0zM913.65 683.87a1.05 1.05 0 1 0 2.1 0a1.05 1.05 0 1 0 -2.1 0zM913.65 680.02a1.05 1.05 0 1 0 2.1 0a1.05 1.05 0 1 0 -2.1 0zM913.65 676.17a1.05 1.05 0 1 0 2.1 0a1.05 1.05 0 1 0 -2.1 0zM913.65 672.32a1.05 1.05 0 1 0 2.1 0a1.05 1.05 0 1 0 -2.1 0zM913.65 668.46a1.05 1.05 0 1 0 2.1 0a1.05 1.05 0 1 0 -2.1 0zM941.65 668.46a1.05 1.05 0 1 0 2.1 0a1.05 1.05 0 1 0 -2.1 0zM941.65 664.61a1.05 1.05 0 1 0 2.1 0a1.05 1.05 0 1 0 -2.1 0zM942.95 664.61a1.05 1.05 0 1 0 2.1 0a1.05 1.05 0 1 0 -2.1 0zM942.95 660.76a1.05 1.05 0 1 0 2.1 0a1.05 1.05 0 1 0 -2.1 0zM947.25 660.76a1.05 1.05 0 1 0 2.1 0a1.05 1.05 0 1 0 -2.1 0zM947.25 656.91a1.05 1.05 0 1 0 2.1 0a1.05 1.05 0 1 0 -2.1 0zM949.75 656.91a1.05 1.05 0 1 0 2.1 0a1.05 1.05 0 1 0 -2.1 0zM949.75 653.05a1.05 1.05 0 1 0 2.1 0a1.05 1.05 0 1 0 -2.1 0zM949.75 649.2a1.05 1.05 0 1 0 2.1 0a1.05 1.05 0 1 0 -2.1 0z" fill="#a818f0" stroke="none"/></g>
<g stroke="#000000" fill="none"><path d="M856.4 757.08V757.08H862.5V753.22H864.5V749.37H870V745.52H871.5V726.25H879.1V722.4H883.2V714.7H885V710.84H888.5V706.99H890V703.14H892V699.29H893.8V695.43H896V683.87H897.6V676.17H914.8V672.32H920.8V668.46H924.2V656.91H928.3V653.05H963.4V649.2H1105.8" stroke-width="1.1"/><path d="M856.4 757.08H862.5M862.5 753.22H864.5M864.5 749.37H870M870 745.52H871.5M871.5 726.25H879.1M879.1 722.4H883.2M883.2 714.7H885M885 710.84H888.5M888.5 706.99H890M890 703.14H892M892 699.29H893.8M893.8 695.43H896M896 683.87H897.6M897.6 676.17H914.8M914.8 672.32H920.8M920.8 668.46H924.2M924.2 656.91H928.3M928.3 653.05H963.4M963.4 649.2H1105.8" stroke-width="1.7"/><path d="M855.35 757.08a1.05 1.05 0 1 0 2.1 0a1.05 1.05 0 1 0 -2.1 0zM861.45 757.08a1.05 1.05 0 1 0 2.1 0a1.05 1.05 0 1 0 -2.1 0zM861.45 753.22a1.05 1.05 0 1 0 2.1 0a1.05 1.05 0 1 0 -2.1 0zM863.45 753.22a1.05 1.05 0 1 0 2.1 0a1.05 1.05 0 1 0 -2.1 0zM863.45 749.37a1.05 1.05 0 1 0 2.1 0a1.05 1.05 0 1 0 -2.1 0zM868.95 749.37a1.05 1.05 0 1 0 2.1 0a1.05 1.05 0 1 0 -2.1 0zM868.95 745.52a1.05 1.05 0 1 0 2.1 0a1.05 1.05 0 1 0 -2.1 0zM870.45 745.52a1.05 1.05 0 1 0 2.1 0a1.05 1.05 0 1 0 -2.1 0zM870.45 741.67a1.05 1.05 0 1 0 2.1 0a1.05 1.05 0 1 0 -2.1 0zM870.45 737.81a1.05 1.05 0 1 0 2.1 0a1.05 1.05 0 1 0 -2.1 0zM870.45 733.96a1.05 1.05 0 1 0 2.1 0a1.05 1.05 0 1 0 -2.1 0zM870.45 730.11a1.05 1.05 0 1 0 2.1 0a1.05 1.05 0 1 0 -2.1 0zM870.45 726.25a1.05 1.05 0 1 0 2.1 0a1.05 1.05 0 1 0 -2.1 0zM878.05 726.25a1.05 1.05 0 1 0 2.1 0a1.05 1.05 0 1 0 -2.1 0zM878.05 722.4a1.05 1.05 0 1 0 2.1 0a1.05 1.05 0 1 0 -2.1 0zM882.15 722.4a1.05 1.05 0 1 0 2.1 0a1.05 1.05 0 1 0 -2.1 0zM882.15 718.55a1.05 1.05 0 1 0 2.1 0a1.05 1.05 0 1 0 -2.1 0zM882.15 714.7a1.05 1.05 0 1 0 2.1 0a1.05 1.05 0 1 0 -2.1 0zM883.95 714.7a1.05 1.05 0 1 0 2.1 0a1.05 1.05 0 1 0 -2.1 0zM883.95 710.84a1.05 1.05 0 1 0 2.1 0a1.05 1.05 0 1 0 -2.1 0zM887.45 710.84a1.05 1.05 0 1 0 2.1 0a1.05 1.05 0 1 0 -2.1 0zM887.45 706.99a1.05 1.05 0 1 0 2.1 0a1.05 1.05 0 1 0 -2.1 0zM888.95 706.99a1.05 1.05 0 1 0 2.1 0a1.05 1.05 0 1 0 -2.1 0zM888.95 703.14a1.05 1.05 0 1 0 2.1 0a1.05 1.05 0 1 0 -2.1 0zM890.95 703.14a1.05 1.05 0 1 0 2.1 0a1.05 1.05 0 1 0 -2.1 0zM890.95 699.29a1.05 1.05 0 1 0 2.1 0a1.05 1.05 0 1 0 -2.1 0zM892.75 699.29a1.05 1.05 0 1 0 2.1 0a1.05 1.05 0 1 0 -2.1 0zM892.75 695.43a1.05 1.05 0 1 0 2.1 0a1.05 1.05 0 1 0 -2.1 0zM894.95 695.43a1.05 1.05 0 1 0 2.1 0a1.05 1.05 0 1 0 -2.1 0zM894.95 691.58a1.05 1.05 0 1 0 2.1 0a1.05 1.05 0 1 0 -2.1 0zM894.95 687.73a1.05 1.05 0 1 0 2.1 0a1.05 1.05 0 1 0 -2.1 0zM894.95 683.87a1.05 1.05 0 1 0 2.1 0a1.05 1.05 0 1 0 -2.1 0zM896.55 683.87a1.05 1.05 0 1 0 2.1 0a1.05 1.05 0 1 0 -2.1 0zM896.55 680.02a1.05 1.05 0 1 0 2.1 0a1.05 1.05 0 1 0 -2.1 0zM896.55 676.17a1.05 1.05 0 1 0 2.1 0a1.05 1.05 0 1 0 -2.1 0zM913.75 676.17a1.05 1.05 0 1 0 2.1 0a1.05 1.05 0 1 0 -2.1 0zM913.75 672.32a1.05 1.05 0 1 0 2.1 0a1.05 1.05 0 1 0 -2.1 0zM919.75 672.32a1.05 1.05 0 1 0 2.1 0a1.05 1.05 0 1 0 -2.1 0zM919.75 668.46a1.05 1.05 0 1 0 2.1 0a1.05 1.05 0 1 0 -2.1 0zM923.15 668.46a1.05 1.05 0 1 0 2.1 0a1.05 1.05 0 1 0 -2.1 0zM923.15 664.61a1.05 1.05 0 1 0 2.1 0a1.05 1.05 0 1 0 -2.1 0zM923.15 660.76a1.05 1.05 0 1 0 2.1 0a1.05 1.05 0 1 0 -2.1 0zM923.15 656.91a1.05 1.05 0 1 0 2.1 0a1.05 1.05 0 1 0 -2.1 0zM927.25 656.91a1.05 1.05 0 1 0 2.1 0a1.05 1.05 0 1 0 -2.1 0zM927.25 653.05a1.05 1.05 0 1 0 2.1 0a1.05 1.05 0 1 0 -2.1 0zM962.35 653.05a1.05 1.05 0 1 0 2.1 0a1.05 1.05 0 1 0 -2.1 0zM962.35 649.2a1.05 1.05 0 1 0 2.1 0a1.05 1.05 0 1 0 -2.1 0z" fill="#000000" stroke="none"/></g>
<g font-size="15"><text transform="translate(844 866.47) rotate(0.03)" text-anchor="end">0.0</text><text transform="translate(844 824.09) rotate(0.03)" text-anchor="end">0.2</text><text transform="translate(844 781.71) rotate(0.03)" text-anchor="end">0.4</text><text transform="translate(844 739.33) rotate(0.03)" text-anchor="end">0.6</text><text transform="translate(844 696.95) rotate(0.03)" text-anchor="end">0.8</text><text transform="translate(844 654.57) rotate(0.03)" text-anchor="end">1.0</text><text transform="translate(856.4 887.5) rotate(0.03)" text-anchor="middle">0.0</text><text transform="translate(906.2 887.5) rotate(0.03)" text-anchor="middle">0.2</text><text transform="translate(956 887.5) rotate(0.03)" text-anchor="middle">0.4</text><text transform="translate(1005.8 887.5) rotate(0.03)" text-anchor="middle">0.6</text><text transform="translate(1055.6 887.5) rotate(0.03)" text-anchor="middle">0.8</text><text transform="translate(1105.4 887.5) rotate(0.03)" text-anchor="middle">1.0</text></g>
<text font-size="17.2" text-anchor="middle" transform="translate(810.36 754) rotate(-89.97)">Sensitivity(%)</text>
<text font-size="17.3" text-anchor="middle" transform="translate(980.2 914.6) rotate(0.03)">1 - Specificity</text>
<g font-size="12.5">
<line x1="958.9" y1="780.75" x2="980.8" y2="780.75" stroke="#000000" stroke-width="1.7"/><text transform="translate(981.8 786.2) rotate(0.03)" textLength="168.9" lengthAdjust="spacingAndGlyphs">CPT1(AUC=0.884,P&lt;0.0001)</text>
<line x1="958.9" y1="796.5" x2="980.8" y2="796.5" stroke="#a818f0" stroke-width="1.7"/><text transform="translate(981.5 801.5) rotate(0.03)" textLength="162.7" lengthAdjust="spacingAndGlyphs">ACO(AUC=0.923,P&lt;0.0001)</text>
<line x1="957.5" y1="813.4" x2="980.1" y2="813.4" stroke="#0000ff" stroke-width="1.7"/><text transform="translate(981.8 816.2) rotate(0.03)" textLength="164.2" lengthAdjust="spacingAndGlyphs">IL-10(AUC=0.931,P&lt;0.0001)</text>
<line x1="958.2" y1="827" x2="979.4" y2="827" stroke="#ff0000" stroke-width="1.7"/><text transform="translate(980.1 830.2) rotate(0.03)" textLength="173.1" lengthAdjust="spacingAndGlyphs">TNF-α(AUC=0.891,P&lt;0.0001)</text>
<line x1="958.9" y1="840.2" x2="979.4" y2="840.2" stroke="#00b400" stroke-width="1.7"/><text transform="translate(982.2 844.5) rotate(0.03)" textLength="157" lengthAdjust="spacingAndGlyphs">IL-6(AUC=0.927,P&lt;0.0001)</text>
<line x1="958.9" y1="852" x2="979.4" y2="852" stroke="#00f0ff" stroke-width="1.7"/><text transform="translate(981.8 857.4) rotate(0.03)" textLength="178.2" lengthAdjust="spacingAndGlyphs">GLUT1(AUC=0.947,P&lt;0.0001)</text>
</g>
</g>
</svg>
</div>
</body>
</html>
